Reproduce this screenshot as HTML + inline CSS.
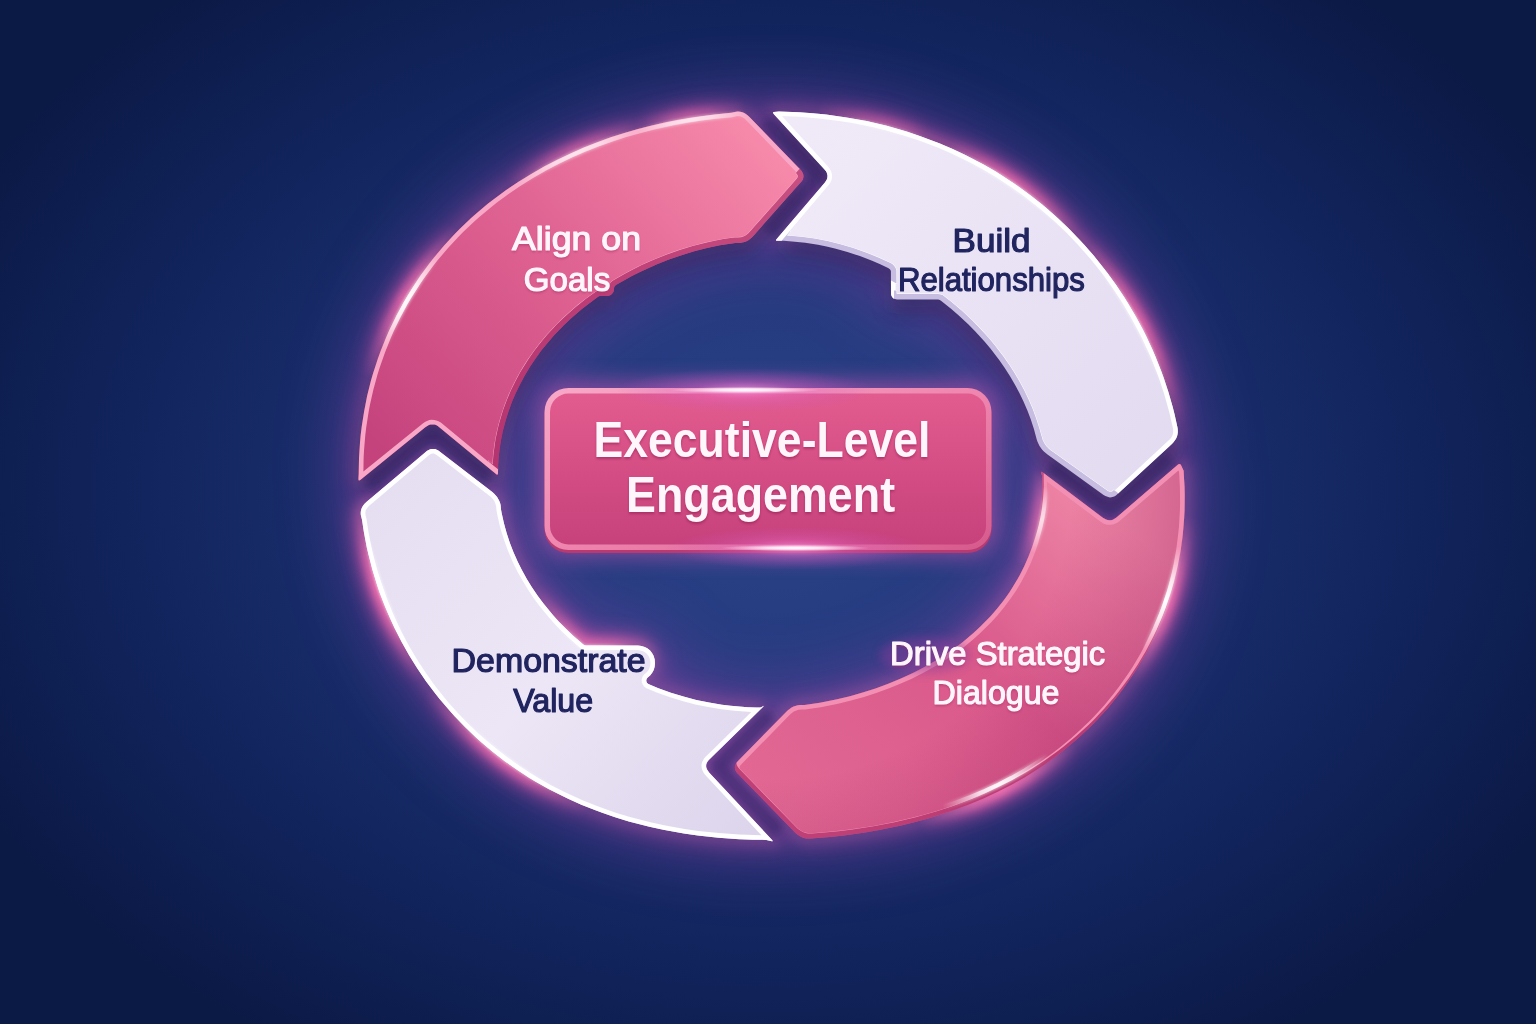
<!DOCTYPE html>
<html><head><meta charset="utf-8"><title>Executive-Level Engagement</title>
<style>html,body{margin:0;padding:0;background:#0f1c4b;}body{width:1536px;height:1024px;overflow:hidden;font-family:"Liberation Sans",sans-serif;}svg{display:block}</style>
</head><body>
<svg width="1536" height="1024" viewBox="0 0 1536 1024">
<defs>
<radialGradient id="bg" gradientUnits="userSpaceOnUse" cx="770" cy="490" r="900" gradientTransform="translate(770 490) scale(1 0.73) translate(-770 -490)">
 <stop offset="0" stop-color="#2b4389"/><stop offset="0.28" stop-color="#253b7f"/><stop offset="0.5" stop-color="#192d6b"/><stop offset="0.72" stop-color="#11245c"/><stop offset="1" stop-color="#0b1945"/>
</radialGradient>
<linearGradient id="gTL" gradientUnits="userSpaceOnUse" x1="760" y1="130" x2="400" y2="470">
 <stop offset="0" stop-color="#f78aab"/><stop offset="0.45" stop-color="#e06493"/><stop offset="1" stop-color="#c5437d"/>
</linearGradient>
<linearGradient id="gBR" gradientUnits="userSpaceOnUse" x1="1100" y1="500" x2="800" y2="830">
 <stop offset="0" stop-color="#ee86a6"/><stop offset="0.45" stop-color="#d9598b"/><stop offset="1" stop-color="#e26893"/>
</linearGradient>
<linearGradient id="gTR" gradientUnits="userSpaceOnUse" x1="800" y1="130" x2="1150" y2="480">
 <stop offset="0" stop-color="#f0eaf8"/><stop offset="0.6" stop-color="#e8e1f4"/><stop offset="1" stop-color="#e3dbf0"/>
</linearGradient>
<linearGradient id="gBL" gradientUnits="userSpaceOnUse" x1="400" y1="480" x2="750" y2="830">
 <stop offset="0" stop-color="#e6dff2"/><stop offset="0.5" stop-color="#ece6f6"/><stop offset="1" stop-color="#ddd5ec"/>
</linearGradient>
<radialGradient id="gBRo" gradientUnits="userSpaceOnUse" cx="770" cy="477" r="432">
 <stop offset="0.7" stop-color="#9a2060" stop-opacity="0"/><stop offset="1" stop-color="#9a2060" stop-opacity="0.36"/>
</radialGradient>
<linearGradient id="gBoxRim" x1="0" y1="0" x2="1" y2="1">
 <stop offset="0" stop-color="#f8a9c7"/><stop offset="0.5" stop-color="#ef86af"/><stop offset="1" stop-color="#d65a8c"/>
</linearGradient>
<linearGradient id="gBox" x1="0" y1="0" x2="0" y2="1">
 <stop offset="0" stop-color="#e25c8f"/><stop offset="1" stop-color="#c7417b"/>
</linearGradient>
<filter id="blur30" x="-40%" y="-40%" width="180%" height="180%"><feGaussianBlur stdDeviation="34"/></filter>
<filter id="blur12" x="-30%" y="-30%" width="160%" height="160%"><feGaussianBlur stdDeviation="10"/></filter>
<filter id="blur6" x="-30%" y="-30%" width="160%" height="160%"><feGaussianBlur stdDeviation="5"/></filter>
<filter id="blur2" x="-30%" y="-30%" width="160%" height="160%"><feGaussianBlur stdDeviation="1.2"/></filter>
<radialGradient id="fm"><stop offset="0" stop-color="#fff"/><stop offset="0.35" stop-color="#fff" stop-opacity="0.8"/><stop offset="1" stop-color="#fff" stop-opacity="0"/></radialGradient>
<radialGradient id="fg"><stop offset="0" stop-color="#ff9be0" stop-opacity="0.9"/><stop offset="0.4" stop-color="#e667c8" stop-opacity="0.45"/><stop offset="1" stop-color="#c24fc0" stop-opacity="0"/></radialGradient>
</defs>
<rect width="1536" height="1024" fill="url(#bg)"/>
<g filter="url(#blur30)" opacity="0.5">
<path d="M358.5 480.2 L358.7 480.5 L359.2 480.6 L360.3 480.0 L425.6 427.1 L427.3 425.9 L428.9 425.1 L430.5 424.6 L432.1 424.4 L434.5 424.6 L436.1 425.1 L437.7 426.0 L439.3 427.2 L496.0 474.1 L497.0 474.7 L497.6 474.6 L498.0 473.6 L498.1 465.7 L498.4 460.6 L499.4 450.6 L500.9 440.6 L502.9 430.8 L505.5 421.0 L508.5 411.5 L511.9 402.1 L515.8 392.9 L520.2 383.9 L524.9 375.2 L530.0 366.7 L535.6 358.4 L541.3 350.6 L547.5 342.9 L553.9 335.5 L563.8 325.2 L570.9 318.5 L581.6 309.2 L589.1 303.4 L598.1 296.7 L599.6 296.1 L600.4 296.0 L608.2 295.9 L609.5 295.5 L610.7 294.9 L612.1 293.8 L613.4 291.9 L613.9 290.2 L614.1 287.7 L614.3 287.0 L614.7 286.2 L615.9 285.1 L623.9 280.5 L631.9 276.1 L640.0 272.0 L648.2 268.2 L656.4 264.6 L668.9 259.6 L681.5 255.2 L694.2 251.3 L707.0 248.0 L719.9 245.3 L735.2 242.9 L740.0 242.9 L742.2 242.6 L744.5 242.0 L746.5 241.2 L748.4 240.2 L751.8 237.5 L753.5 235.7 L801.6 181.3 L802.5 179.9 L803.1 178.4 L803.4 176.6 L803.3 175.1 L803.0 173.7 L801.6 171.1 L800.2 169.5 L747.8 115.4 L745.8 113.9 L744.2 113.0 L742.3 112.2 L740.0 111.7 L738.0 111.6 L736.2 111.7 L731.2 112.8 L714.2 114.4 L693.4 117.2 L679.5 119.5 L665.7 122.3 L651.8 125.4 L638.0 129.0 L624.3 132.9 L610.7 137.3 L597.1 142.2 L583.6 147.6 L570.3 153.4 L557.1 159.7 L544.0 166.5 L531.2 173.9 L518.5 181.7 L506.2 190.1 L494.1 199.0 L488.1 203.6 L476.6 213.3 L470.9 218.3 L459.9 228.8 L454.5 234.2 L444.1 245.5 L434.2 257.2 L429.4 263.3 L420.3 275.6 L416.0 282.0 L411.7 288.5 L403.7 301.8 L396.3 315.5 L389.5 329.4 L386.4 336.6 L380.6 351.0 L377.9 358.4 L373.1 373.3 L370.9 380.8 L367.1 396.0 L364.1 411.4 L361.7 426.8 L360.7 434.7 L360.0 442.5 L359.0 458.1Z" fill="#9a44b4" stroke="#9a44b4" stroke-width="26"/>
<path d="M773.0 112.7 L773.7 113.9 L824.3 169.3 L825.8 171.1 L826.7 172.6 L827.2 174.2 L827.5 175.7 L827.3 177.9 L826.8 179.5 L825.9 181.1 L824.7 182.8 L776.7 239.1 L776.0 240.1 L776.2 240.7 L777.1 240.8 L779.6 240.7 L783.6 240.8 L792.2 241.4 L805.2 242.8 L818.0 244.8 L826.5 246.5 L834.9 248.5 L847.4 252.0 L859.9 256.1 L872.1 260.8 L880.2 264.3 L888.1 268.0 L889.9 269.2 L890.7 270.4 L890.9 271.2 L891.0 293.4 L891.2 294.9 L891.5 296.0 L892.6 297.6 L893.5 298.4 L894.9 299.1 L897.1 299.5 L938.1 299.5 L939.8 299.9 L941.0 300.7 L951.6 309.2 L958.5 315.2 L968.5 324.5 L975.1 331.2 L984.5 341.5 L990.6 348.7 L999.2 359.9 L1004.6 367.8 L1009.9 375.9 L1014.7 384.2 L1019.3 392.8 L1023.5 401.4 L1027.4 410.5 L1030.9 419.7 L1033.9 429.0 L1036.8 439.7 L1037.6 442.1 L1039.5 446.1 L1042.2 449.8 L1043.9 451.6 L1047.5 454.6 L1103.6 494.9 L1105.4 496.0 L1108.3 497.1 L1109.9 497.4 L1111.4 497.3 L1113.3 496.8 L1114.8 496.2 L1116.2 495.2 L1171.9 443.9 L1173.7 442.1 L1176.0 438.7 L1177.0 436.5 L1177.5 434.5 L1177.8 432.6 L1177.8 430.2 L1177.6 428.0 L1174.5 414.0 L1172.6 406.6 L1168.4 392.1 L1163.6 377.6 L1161.0 370.5 L1155.4 356.5 L1152.4 349.6 L1146.1 336.1 L1142.7 329.3 L1135.6 316.2 L1128.1 303.4 L1124.1 297.1 L1116.0 284.8 L1107.3 272.8 L1102.8 267.0 L1093.7 255.6 L1084.0 244.6 L1079.1 239.2 L1069.0 228.8 L1058.5 218.8 L1047.8 209.3 L1042.2 204.6 L1031.0 195.7 L1025.3 191.4 L1013.7 183.2 L1001.8 175.4 L995.8 171.6 L983.6 164.5 L971.1 157.9 L964.9 154.7 L952.2 148.8 L939.3 143.3 L919.8 135.9 L906.7 131.5 L886.8 125.8 L866.7 121.1 L846.5 117.4 L826.2 114.5 L812.7 113.2 L799.2 112.2 L778.9 111.4 L773.9 111.9 L773.2 112.2Z" fill="#9a44b4" stroke="#9a44b4" stroke-width="26"/>
<path d="M1178.5 464.3 L1179.6 464.0 L1180.5 464.5 L1183.6 470.8 L1184.5 486.7 L1184.7 502.7 L1184.1 518.7 L1182.8 534.6 L1181.9 542.5 L1179.4 558.4 L1177.8 566.2 L1174.2 581.8 L1172.0 589.6 L1167.2 604.8 L1164.5 612.4 L1158.5 627.2 L1155.3 634.5 L1148.2 648.9 L1144.4 655.9 L1136.3 669.6 L1131.9 676.3 L1122.8 689.3 L1118.0 695.6 L1108.0 707.9 L1097.4 719.6 L1091.9 725.2 L1080.5 736.0 L1074.6 741.2 L1062.6 751.2 L1056.4 755.9 L1043.9 764.9 L1037.4 769.2 L1024.4 777.4 L1011.1 784.9 L997.6 791.8 L983.9 798.2 L970.1 804.0 L956.2 809.3 L942.3 814.1 L928.2 818.4 L914.2 822.3 L900.1 825.7 L879.1 830.0 L865.0 832.5 L844.0 835.4 L830.0 837.0 L810.7 838.6 L806.2 838.4 L804.0 837.9 L802.0 837.2 L800.0 836.3 L796.3 833.7 L736.7 772.5 L735.8 771.1 L735.2 769.7 L734.9 768.2 L734.9 766.8 L735.2 765.4 L735.8 763.9 L736.7 762.5 L786.1 711.9 L787.9 710.2 L791.6 707.6 L793.5 706.6 L797.7 705.3 L799.9 705.0 L804.5 705.0 L819.9 702.7 L837.1 699.3 L849.9 696.2 L862.7 692.6 L875.5 688.5 L888.2 683.8 L900.9 678.6 L913.4 672.8 L925.9 666.3 L938.2 659.2 L946.2 654.0 L958.0 645.7 L965.7 639.7 L976.8 630.0 L984.0 623.1 L994.2 612.2 L1000.5 604.4 L1006.6 596.4 L1012.2 588.0 L1017.5 579.3 L1022.3 570.3 L1026.6 561.0 L1030.5 551.5 L1033.8 541.8 L1036.6 532.0 L1038.9 521.9 L1040.6 511.8 L1041.7 501.6 L1042.3 491.3 L1042.4 486.2 L1042.1 475.9 L1041.1 472.7 L1041.1 472.0 L1041.3 471.7 L1042.5 472.3 L1102.8 517.7 L1106.0 519.5 L1107.6 520.0 L1109.1 520.3 L1110.7 520.2 L1112.2 519.9 L1113.8 519.3 L1116.8 517.2Z" fill="#9a44b4" stroke="#9a44b4" stroke-width="26"/>
<path d="M583.3 644.5 L572.6 635.2 L565.7 628.6 L558.9 621.7 L552.5 614.6 L543.3 603.3 L537.5 595.5 L531.9 587.3 L526.8 578.9 L522.0 570.2 L517.5 561.3 L513.5 552.2 L509.9 542.9 L506.7 533.3 L504.0 523.6 L501.8 513.8 L501.1 509.9 L500.6 505.1 L500.1 503.0 L499.2 500.7 L497.1 496.9 L494.2 493.7 L492.3 492.1 L438.3 450.5 L436.7 449.7 L435.2 449.1 L433.3 448.9 L431.7 448.9 L430.2 449.3 L428.7 449.9 L427.2 450.7 L366.4 502.1 L364.6 503.8 L363.2 505.5 L362.1 507.3 L361.4 508.9 L360.9 510.8 L360.7 512.8 L360.8 515.1 L362.0 519.7 L363.9 532.2 L366.8 547.5 L368.6 555.1 L372.5 570.1 L377.1 585.0 L379.6 592.4 L385.1 606.8 L391.3 621.1 L394.5 628.1 L401.5 641.8 L409.1 655.2 L417.2 668.2 L425.8 680.9 L434.9 693.1 L439.6 699.1 L449.5 710.6 L454.6 716.2 L465.0 727.1 L476.0 737.5 L481.6 742.5 L493.0 752.1 L504.8 761.2 L517.0 769.8 L529.4 777.9 L535.7 781.7 L548.5 788.9 L561.5 795.6 L568.1 798.8 L581.3 804.7 L594.8 810.1 L601.5 812.6 L615.1 817.3 L628.8 821.4 L649.4 826.8 L663.2 829.8 L683.9 833.5 L697.8 835.5 L718.5 837.7 L739.3 839.2 L753.0 839.7 L766.3 839.9 L771.8 841.3 L772.7 841.3 L772.7 840.9 L772.1 840.0 L709.1 772.4 L707.7 770.6 L706.8 769.1 L706.3 767.5 L706.1 766.1 L706.3 764.0 L707.0 762.5 L707.9 761.0 L709.3 759.5 L763.2 706.8 L764.0 705.8 L761.0 707.3 L760.3 707.5 L756.3 707.5 L747.7 707.2 L739.2 706.6 L730.6 705.8 L722.0 704.7 L709.1 702.6 L696.3 699.9 L683.5 696.6 L670.9 692.7 L658.4 688.2 L650.1 684.8 L647.9 683.8 L646.8 682.6 L646.3 681.1 L646.3 680.2 L646.7 678.7 L647.7 677.4 L650.1 675.4 L652.2 672.8 L653.6 670.2 L654.6 667.0 L655.0 663.4 L654.7 659.4 L653.6 655.8 L652.0 652.9 L650.1 650.6 L647.3 648.3 L644.7 646.9 L641.5 645.9 L638.1 645.5 L586.0 645.5 L584.2 645.1Z" fill="#9a44b4" stroke="#9a44b4" stroke-width="26"/>
</g>
<mask id="gmask" maskUnits="userSpaceOnUse" x="0" y="0" width="1536" height="1024">
<rect width="1536" height="1024" fill="#fff" opacity="0.22"/>
<circle cx="401" cy="297" r="88" fill="url(#fm)" opacity="1"/>
<circle cx="690" cy="117" r="56" fill="url(#fm)" opacity="0.7"/>
<circle cx="885" cy="125" r="69" fill="url(#fm)" opacity="0.6"/>
<circle cx="575" cy="150" r="75" fill="url(#fm)" opacity="0.7"/>
<circle cx="1010" cy="186" r="100" fill="url(#fm)" opacity="0.9"/>
<circle cx="1140" cy="322" r="112" fill="url(#fm)" opacity="1"/>
<circle cx="1166" cy="600" r="88" fill="url(#fm)" opacity="1"/>
<circle cx="1000" cy="790" r="88" fill="url(#fm)" opacity="1"/>
<circle cx="380" cy="590" r="100" fill="url(#fm)" opacity="1"/>
<circle cx="505" cy="755" r="100" fill="url(#fm)" opacity="0.9"/>
<circle cx="590" cy="640" r="75" fill="url(#fm)" opacity="0.8"/>
<circle cx="1041" cy="520" r="50" fill="url(#fm)" opacity="0.7"/>
<ellipse cx="770" cy="440" rx="262" ry="200" fill="#000" opacity="0.55" filter="url(#blur12)"/>
</mask>
<g mask="url(#gmask)">
<g filter="url(#blur12)">
<path d="M358.5 480.2 L358.7 480.5 L359.2 480.6 L360.3 480.0 L425.6 427.1 L427.3 425.9 L428.9 425.1 L430.5 424.6 L432.1 424.4 L434.5 424.6 L436.1 425.1 L437.7 426.0 L439.3 427.2 L496.0 474.1 L497.0 474.7 L497.6 474.6 L498.0 473.6 L498.1 465.7 L498.4 460.6 L499.4 450.6 L500.9 440.6 L502.9 430.8 L505.5 421.0 L508.5 411.5 L511.9 402.1 L515.8 392.9 L520.2 383.9 L524.9 375.2 L530.0 366.7 L535.6 358.4 L541.3 350.6 L547.5 342.9 L553.9 335.5 L563.8 325.2 L570.9 318.5 L581.6 309.2 L589.1 303.4 L598.1 296.7 L599.6 296.1 L600.4 296.0 L608.2 295.9 L609.5 295.5 L610.7 294.9 L612.1 293.8 L613.4 291.9 L613.9 290.2 L614.1 287.7 L614.3 287.0 L614.7 286.2 L615.9 285.1 L623.9 280.5 L631.9 276.1 L640.0 272.0 L648.2 268.2 L656.4 264.6 L668.9 259.6 L681.5 255.2 L694.2 251.3 L707.0 248.0 L719.9 245.3 L735.2 242.9 L740.0 242.9 L742.2 242.6 L744.5 242.0 L746.5 241.2 L748.4 240.2 L751.8 237.5 L753.5 235.7 L801.6 181.3 L802.5 179.9 L803.1 178.4 L803.4 176.6 L803.3 175.1 L803.0 173.7 L801.6 171.1 L800.2 169.5 L747.8 115.4 L745.8 113.9 L744.2 113.0 L742.3 112.2 L740.0 111.7 L738.0 111.6 L736.2 111.7 L731.2 112.8 L714.2 114.4 L693.4 117.2 L679.5 119.5 L665.7 122.3 L651.8 125.4 L638.0 129.0 L624.3 132.9 L610.7 137.3 L597.1 142.2 L583.6 147.6 L570.3 153.4 L557.1 159.7 L544.0 166.5 L531.2 173.9 L518.5 181.7 L506.2 190.1 L494.1 199.0 L488.1 203.6 L476.6 213.3 L470.9 218.3 L459.9 228.8 L454.5 234.2 L444.1 245.5 L434.2 257.2 L429.4 263.3 L420.3 275.6 L416.0 282.0 L411.7 288.5 L403.7 301.8 L396.3 315.5 L389.5 329.4 L386.4 336.6 L380.6 351.0 L377.9 358.4 L373.1 373.3 L370.9 380.8 L367.1 396.0 L364.1 411.4 L361.7 426.8 L360.7 434.7 L360.0 442.5 L359.0 458.1Z" fill="none" stroke="#e85aa8" stroke-width="18"/>
<path d="M773.0 112.7 L773.7 113.9 L824.3 169.3 L825.8 171.1 L826.7 172.6 L827.2 174.2 L827.5 175.7 L827.3 177.9 L826.8 179.5 L825.9 181.1 L824.7 182.8 L776.7 239.1 L776.0 240.1 L776.2 240.7 L777.1 240.8 L779.6 240.7 L783.6 240.8 L792.2 241.4 L805.2 242.8 L818.0 244.8 L826.5 246.5 L834.9 248.5 L847.4 252.0 L859.9 256.1 L872.1 260.8 L880.2 264.3 L888.1 268.0 L889.9 269.2 L890.7 270.4 L890.9 271.2 L891.0 293.4 L891.2 294.9 L891.5 296.0 L892.6 297.6 L893.5 298.4 L894.9 299.1 L897.1 299.5 L938.1 299.5 L939.8 299.9 L941.0 300.7 L951.6 309.2 L958.5 315.2 L968.5 324.5 L975.1 331.2 L984.5 341.5 L990.6 348.7 L999.2 359.9 L1004.6 367.8 L1009.9 375.9 L1014.7 384.2 L1019.3 392.8 L1023.5 401.4 L1027.4 410.5 L1030.9 419.7 L1033.9 429.0 L1036.8 439.7 L1037.6 442.1 L1039.5 446.1 L1042.2 449.8 L1043.9 451.6 L1047.5 454.6 L1103.6 494.9 L1105.4 496.0 L1108.3 497.1 L1109.9 497.4 L1111.4 497.3 L1113.3 496.8 L1114.8 496.2 L1116.2 495.2 L1171.9 443.9 L1173.7 442.1 L1176.0 438.7 L1177.0 436.5 L1177.5 434.5 L1177.8 432.6 L1177.8 430.2 L1177.6 428.0 L1174.5 414.0 L1172.6 406.6 L1168.4 392.1 L1163.6 377.6 L1161.0 370.5 L1155.4 356.5 L1152.4 349.6 L1146.1 336.1 L1142.7 329.3 L1135.6 316.2 L1128.1 303.4 L1124.1 297.1 L1116.0 284.8 L1107.3 272.8 L1102.8 267.0 L1093.7 255.6 L1084.0 244.6 L1079.1 239.2 L1069.0 228.8 L1058.5 218.8 L1047.8 209.3 L1042.2 204.6 L1031.0 195.7 L1025.3 191.4 L1013.7 183.2 L1001.8 175.4 L995.8 171.6 L983.6 164.5 L971.1 157.9 L964.9 154.7 L952.2 148.8 L939.3 143.3 L919.8 135.9 L906.7 131.5 L886.8 125.8 L866.7 121.1 L846.5 117.4 L826.2 114.5 L812.7 113.2 L799.2 112.2 L778.9 111.4 L773.9 111.9 L773.2 112.2Z" fill="none" stroke="#e85aa8" stroke-width="18"/>
<path d="M1178.5 464.3 L1179.6 464.0 L1180.5 464.5 L1183.6 470.8 L1184.5 486.7 L1184.7 502.7 L1184.1 518.7 L1182.8 534.6 L1181.9 542.5 L1179.4 558.4 L1177.8 566.2 L1174.2 581.8 L1172.0 589.6 L1167.2 604.8 L1164.5 612.4 L1158.5 627.2 L1155.3 634.5 L1148.2 648.9 L1144.4 655.9 L1136.3 669.6 L1131.9 676.3 L1122.8 689.3 L1118.0 695.6 L1108.0 707.9 L1097.4 719.6 L1091.9 725.2 L1080.5 736.0 L1074.6 741.2 L1062.6 751.2 L1056.4 755.9 L1043.9 764.9 L1037.4 769.2 L1024.4 777.4 L1011.1 784.9 L997.6 791.8 L983.9 798.2 L970.1 804.0 L956.2 809.3 L942.3 814.1 L928.2 818.4 L914.2 822.3 L900.1 825.7 L879.1 830.0 L865.0 832.5 L844.0 835.4 L830.0 837.0 L810.7 838.6 L806.2 838.4 L804.0 837.9 L802.0 837.2 L800.0 836.3 L796.3 833.7 L736.7 772.5 L735.8 771.1 L735.2 769.7 L734.9 768.2 L734.9 766.8 L735.2 765.4 L735.8 763.9 L736.7 762.5 L786.1 711.9 L787.9 710.2 L791.6 707.6 L793.5 706.6 L797.7 705.3 L799.9 705.0 L804.5 705.0 L819.9 702.7 L837.1 699.3 L849.9 696.2 L862.7 692.6 L875.5 688.5 L888.2 683.8 L900.9 678.6 L913.4 672.8 L925.9 666.3 L938.2 659.2 L946.2 654.0 L958.0 645.7 L965.7 639.7 L976.8 630.0 L984.0 623.1 L994.2 612.2 L1000.5 604.4 L1006.6 596.4 L1012.2 588.0 L1017.5 579.3 L1022.3 570.3 L1026.6 561.0 L1030.5 551.5 L1033.8 541.8 L1036.6 532.0 L1038.9 521.9 L1040.6 511.8 L1041.7 501.6 L1042.3 491.3 L1042.4 486.2 L1042.1 475.9 L1041.1 472.7 L1041.1 472.0 L1041.3 471.7 L1042.5 472.3 L1102.8 517.7 L1106.0 519.5 L1107.6 520.0 L1109.1 520.3 L1110.7 520.2 L1112.2 519.9 L1113.8 519.3 L1116.8 517.2Z" fill="none" stroke="#e85aa8" stroke-width="18"/>
<path d="M583.3 644.5 L572.6 635.2 L565.7 628.6 L558.9 621.7 L552.5 614.6 L543.3 603.3 L537.5 595.5 L531.9 587.3 L526.8 578.9 L522.0 570.2 L517.5 561.3 L513.5 552.2 L509.9 542.9 L506.7 533.3 L504.0 523.6 L501.8 513.8 L501.1 509.9 L500.6 505.1 L500.1 503.0 L499.2 500.7 L497.1 496.9 L494.2 493.7 L492.3 492.1 L438.3 450.5 L436.7 449.7 L435.2 449.1 L433.3 448.9 L431.7 448.9 L430.2 449.3 L428.7 449.9 L427.2 450.7 L366.4 502.1 L364.6 503.8 L363.2 505.5 L362.1 507.3 L361.4 508.9 L360.9 510.8 L360.7 512.8 L360.8 515.1 L362.0 519.7 L363.9 532.2 L366.8 547.5 L368.6 555.1 L372.5 570.1 L377.1 585.0 L379.6 592.4 L385.1 606.8 L391.3 621.1 L394.5 628.1 L401.5 641.8 L409.1 655.2 L417.2 668.2 L425.8 680.9 L434.9 693.1 L439.6 699.1 L449.5 710.6 L454.6 716.2 L465.0 727.1 L476.0 737.5 L481.6 742.5 L493.0 752.1 L504.8 761.2 L517.0 769.8 L529.4 777.9 L535.7 781.7 L548.5 788.9 L561.5 795.6 L568.1 798.8 L581.3 804.7 L594.8 810.1 L601.5 812.6 L615.1 817.3 L628.8 821.4 L649.4 826.8 L663.2 829.8 L683.9 833.5 L697.8 835.5 L718.5 837.7 L739.3 839.2 L753.0 839.7 L766.3 839.9 L771.8 841.3 L772.7 841.3 L772.7 840.9 L772.1 840.0 L709.1 772.4 L707.7 770.6 L706.8 769.1 L706.3 767.5 L706.1 766.1 L706.3 764.0 L707.0 762.5 L707.9 761.0 L709.3 759.5 L763.2 706.8 L764.0 705.8 L761.0 707.3 L760.3 707.5 L756.3 707.5 L747.7 707.2 L739.2 706.6 L730.6 705.8 L722.0 704.7 L709.1 702.6 L696.3 699.9 L683.5 696.6 L670.9 692.7 L658.4 688.2 L650.1 684.8 L647.9 683.8 L646.8 682.6 L646.3 681.1 L646.3 680.2 L646.7 678.7 L647.7 677.4 L650.1 675.4 L652.2 672.8 L653.6 670.2 L654.6 667.0 L655.0 663.4 L654.7 659.4 L653.6 655.8 L652.0 652.9 L650.1 650.6 L647.3 648.3 L644.7 646.9 L641.5 645.9 L638.1 645.5 L586.0 645.5 L584.2 645.1Z" fill="none" stroke="#e85aa8" stroke-width="18"/>
</g>
<g filter="url(#blur6)">
<path d="M358.5 480.2 L358.7 480.5 L359.2 480.6 L360.3 480.0 L425.6 427.1 L427.3 425.9 L428.9 425.1 L430.5 424.6 L432.1 424.4 L434.5 424.6 L436.1 425.1 L437.7 426.0 L439.3 427.2 L496.0 474.1 L497.0 474.7 L497.6 474.6 L498.0 473.6 L498.1 465.7 L498.4 460.6 L499.4 450.6 L500.9 440.6 L502.9 430.8 L505.5 421.0 L508.5 411.5 L511.9 402.1 L515.8 392.9 L520.2 383.9 L524.9 375.2 L530.0 366.7 L535.6 358.4 L541.3 350.6 L547.5 342.9 L553.9 335.5 L563.8 325.2 L570.9 318.5 L581.6 309.2 L589.1 303.4 L598.1 296.7 L599.6 296.1 L600.4 296.0 L608.2 295.9 L609.5 295.5 L610.7 294.9 L612.1 293.8 L613.4 291.9 L613.9 290.2 L614.1 287.7 L614.3 287.0 L614.7 286.2 L615.9 285.1 L623.9 280.5 L631.9 276.1 L640.0 272.0 L648.2 268.2 L656.4 264.6 L668.9 259.6 L681.5 255.2 L694.2 251.3 L707.0 248.0 L719.9 245.3 L735.2 242.9 L740.0 242.9 L742.2 242.6 L744.5 242.0 L746.5 241.2 L748.4 240.2 L751.8 237.5 L753.5 235.7 L801.6 181.3 L802.5 179.9 L803.1 178.4 L803.4 176.6 L803.3 175.1 L803.0 173.7 L801.6 171.1 L800.2 169.5 L747.8 115.4 L745.8 113.9 L744.2 113.0 L742.3 112.2 L740.0 111.7 L738.0 111.6 L736.2 111.7 L731.2 112.8 L714.2 114.4 L693.4 117.2 L679.5 119.5 L665.7 122.3 L651.8 125.4 L638.0 129.0 L624.3 132.9 L610.7 137.3 L597.1 142.2 L583.6 147.6 L570.3 153.4 L557.1 159.7 L544.0 166.5 L531.2 173.9 L518.5 181.7 L506.2 190.1 L494.1 199.0 L488.1 203.6 L476.6 213.3 L470.9 218.3 L459.9 228.8 L454.5 234.2 L444.1 245.5 L434.2 257.2 L429.4 263.3 L420.3 275.6 L416.0 282.0 L411.7 288.5 L403.7 301.8 L396.3 315.5 L389.5 329.4 L386.4 336.6 L380.6 351.0 L377.9 358.4 L373.1 373.3 L370.9 380.8 L367.1 396.0 L364.1 411.4 L361.7 426.8 L360.7 434.7 L360.0 442.5 L359.0 458.1Z" fill="none" stroke="#ff78b4" stroke-width="10"/>
<path d="M773.0 112.7 L773.7 113.9 L824.3 169.3 L825.8 171.1 L826.7 172.6 L827.2 174.2 L827.5 175.7 L827.3 177.9 L826.8 179.5 L825.9 181.1 L824.7 182.8 L776.7 239.1 L776.0 240.1 L776.2 240.7 L777.1 240.8 L779.6 240.7 L783.6 240.8 L792.2 241.4 L805.2 242.8 L818.0 244.8 L826.5 246.5 L834.9 248.5 L847.4 252.0 L859.9 256.1 L872.1 260.8 L880.2 264.3 L888.1 268.0 L889.9 269.2 L890.7 270.4 L890.9 271.2 L891.0 293.4 L891.2 294.9 L891.5 296.0 L892.6 297.6 L893.5 298.4 L894.9 299.1 L897.1 299.5 L938.1 299.5 L939.8 299.9 L941.0 300.7 L951.6 309.2 L958.5 315.2 L968.5 324.5 L975.1 331.2 L984.5 341.5 L990.6 348.7 L999.2 359.9 L1004.6 367.8 L1009.9 375.9 L1014.7 384.2 L1019.3 392.8 L1023.5 401.4 L1027.4 410.5 L1030.9 419.7 L1033.9 429.0 L1036.8 439.7 L1037.6 442.1 L1039.5 446.1 L1042.2 449.8 L1043.9 451.6 L1047.5 454.6 L1103.6 494.9 L1105.4 496.0 L1108.3 497.1 L1109.9 497.4 L1111.4 497.3 L1113.3 496.8 L1114.8 496.2 L1116.2 495.2 L1171.9 443.9 L1173.7 442.1 L1176.0 438.7 L1177.0 436.5 L1177.5 434.5 L1177.8 432.6 L1177.8 430.2 L1177.6 428.0 L1174.5 414.0 L1172.6 406.6 L1168.4 392.1 L1163.6 377.6 L1161.0 370.5 L1155.4 356.5 L1152.4 349.6 L1146.1 336.1 L1142.7 329.3 L1135.6 316.2 L1128.1 303.4 L1124.1 297.1 L1116.0 284.8 L1107.3 272.8 L1102.8 267.0 L1093.7 255.6 L1084.0 244.6 L1079.1 239.2 L1069.0 228.8 L1058.5 218.8 L1047.8 209.3 L1042.2 204.6 L1031.0 195.7 L1025.3 191.4 L1013.7 183.2 L1001.8 175.4 L995.8 171.6 L983.6 164.5 L971.1 157.9 L964.9 154.7 L952.2 148.8 L939.3 143.3 L919.8 135.9 L906.7 131.5 L886.8 125.8 L866.7 121.1 L846.5 117.4 L826.2 114.5 L812.7 113.2 L799.2 112.2 L778.9 111.4 L773.9 111.9 L773.2 112.2Z" fill="none" stroke="#ff78b4" stroke-width="10"/>
<path d="M1178.5 464.3 L1179.6 464.0 L1180.5 464.5 L1183.6 470.8 L1184.5 486.7 L1184.7 502.7 L1184.1 518.7 L1182.8 534.6 L1181.9 542.5 L1179.4 558.4 L1177.8 566.2 L1174.2 581.8 L1172.0 589.6 L1167.2 604.8 L1164.5 612.4 L1158.5 627.2 L1155.3 634.5 L1148.2 648.9 L1144.4 655.9 L1136.3 669.6 L1131.9 676.3 L1122.8 689.3 L1118.0 695.6 L1108.0 707.9 L1097.4 719.6 L1091.9 725.2 L1080.5 736.0 L1074.6 741.2 L1062.6 751.2 L1056.4 755.9 L1043.9 764.9 L1037.4 769.2 L1024.4 777.4 L1011.1 784.9 L997.6 791.8 L983.9 798.2 L970.1 804.0 L956.2 809.3 L942.3 814.1 L928.2 818.4 L914.2 822.3 L900.1 825.7 L879.1 830.0 L865.0 832.5 L844.0 835.4 L830.0 837.0 L810.7 838.6 L806.2 838.4 L804.0 837.9 L802.0 837.2 L800.0 836.3 L796.3 833.7 L736.7 772.5 L735.8 771.1 L735.2 769.7 L734.9 768.2 L734.9 766.8 L735.2 765.4 L735.8 763.9 L736.7 762.5 L786.1 711.9 L787.9 710.2 L791.6 707.6 L793.5 706.6 L797.7 705.3 L799.9 705.0 L804.5 705.0 L819.9 702.7 L837.1 699.3 L849.9 696.2 L862.7 692.6 L875.5 688.5 L888.2 683.8 L900.9 678.6 L913.4 672.8 L925.9 666.3 L938.2 659.2 L946.2 654.0 L958.0 645.7 L965.7 639.7 L976.8 630.0 L984.0 623.1 L994.2 612.2 L1000.5 604.4 L1006.6 596.4 L1012.2 588.0 L1017.5 579.3 L1022.3 570.3 L1026.6 561.0 L1030.5 551.5 L1033.8 541.8 L1036.6 532.0 L1038.9 521.9 L1040.6 511.8 L1041.7 501.6 L1042.3 491.3 L1042.4 486.2 L1042.1 475.9 L1041.1 472.7 L1041.1 472.0 L1041.3 471.7 L1042.5 472.3 L1102.8 517.7 L1106.0 519.5 L1107.6 520.0 L1109.1 520.3 L1110.7 520.2 L1112.2 519.9 L1113.8 519.3 L1116.8 517.2Z" fill="none" stroke="#ff78b4" stroke-width="10"/>
<path d="M583.3 644.5 L572.6 635.2 L565.7 628.6 L558.9 621.7 L552.5 614.6 L543.3 603.3 L537.5 595.5 L531.9 587.3 L526.8 578.9 L522.0 570.2 L517.5 561.3 L513.5 552.2 L509.9 542.9 L506.7 533.3 L504.0 523.6 L501.8 513.8 L501.1 509.9 L500.6 505.1 L500.1 503.0 L499.2 500.7 L497.1 496.9 L494.2 493.7 L492.3 492.1 L438.3 450.5 L436.7 449.7 L435.2 449.1 L433.3 448.9 L431.7 448.9 L430.2 449.3 L428.7 449.9 L427.2 450.7 L366.4 502.1 L364.6 503.8 L363.2 505.5 L362.1 507.3 L361.4 508.9 L360.9 510.8 L360.7 512.8 L360.8 515.1 L362.0 519.7 L363.9 532.2 L366.8 547.5 L368.6 555.1 L372.5 570.1 L377.1 585.0 L379.6 592.4 L385.1 606.8 L391.3 621.1 L394.5 628.1 L401.5 641.8 L409.1 655.2 L417.2 668.2 L425.8 680.9 L434.9 693.1 L439.6 699.1 L449.5 710.6 L454.6 716.2 L465.0 727.1 L476.0 737.5 L481.6 742.5 L493.0 752.1 L504.8 761.2 L517.0 769.8 L529.4 777.9 L535.7 781.7 L548.5 788.9 L561.5 795.6 L568.1 798.8 L581.3 804.7 L594.8 810.1 L601.5 812.6 L615.1 817.3 L628.8 821.4 L649.4 826.8 L663.2 829.8 L683.9 833.5 L697.8 835.5 L718.5 837.7 L739.3 839.2 L753.0 839.7 L766.3 839.9 L771.8 841.3 L772.7 841.3 L772.7 840.9 L772.1 840.0 L709.1 772.4 L707.7 770.6 L706.8 769.1 L706.3 767.5 L706.1 766.1 L706.3 764.0 L707.0 762.5 L707.9 761.0 L709.3 759.5 L763.2 706.8 L764.0 705.8 L761.0 707.3 L760.3 707.5 L756.3 707.5 L747.7 707.2 L739.2 706.6 L730.6 705.8 L722.0 704.7 L709.1 702.6 L696.3 699.9 L683.5 696.6 L670.9 692.7 L658.4 688.2 L650.1 684.8 L647.9 683.8 L646.8 682.6 L646.3 681.1 L646.3 680.2 L646.7 678.7 L647.7 677.4 L650.1 675.4 L652.2 672.8 L653.6 670.2 L654.6 667.0 L655.0 663.4 L654.7 659.4 L653.6 655.8 L652.0 652.9 L650.1 650.6 L647.3 648.3 L644.7 646.9 L641.5 645.9 L638.1 645.5 L586.0 645.5 L584.2 645.1Z" fill="none" stroke="#ff78b4" stroke-width="10"/>
</g>
</g>
<g filter="url(#blur6)" opacity="0.55" fill="none" stroke="#2a2062" stroke-width="16" stroke-linejoin="round" stroke-linecap="butt">
<path d="M765.1 119.2 L818.5 176.0 L768.5 233.4"/>
<path d="M1171.0 457.7 L1110.5 511.6 L1049.2 466.6"/>
<path d="M779.7 832.3 L717.3 766.6 L770.9 713.0"/>
<path d="M367.4 487.7 L432.6 433.8 L490.1 479.8"/>
</g>
<g filter="url(#blur12)" opacity="0.4">
<path d="M358.5 480.2 L358.7 480.5 L359.2 480.6 L360.3 480.0 L425.6 427.1 L427.3 425.9 L428.9 425.1 L430.5 424.6 L432.1 424.4 L434.5 424.6 L436.1 425.1 L437.7 426.0 L439.3 427.2 L496.0 474.1 L497.0 474.7 L497.6 474.6 L498.0 473.6 L498.1 465.7 L498.4 460.6 L499.4 450.6 L500.9 440.6 L502.9 430.8 L505.5 421.0 L508.5 411.5 L511.9 402.1 L515.8 392.9 L520.2 383.9 L524.9 375.2 L530.0 366.7 L535.6 358.4 L541.3 350.6 L547.5 342.9 L553.9 335.5 L563.8 325.2 L570.9 318.5 L581.6 309.2 L589.1 303.4 L598.1 296.7 L599.6 296.1 L600.4 296.0 L608.2 295.9 L609.5 295.5 L610.7 294.9 L612.1 293.8 L613.4 291.9 L613.9 290.2 L614.1 287.7 L614.3 287.0 L614.7 286.2 L615.9 285.1 L623.9 280.5 L631.9 276.1 L640.0 272.0 L648.2 268.2 L656.4 264.6 L668.9 259.6 L681.5 255.2 L694.2 251.3 L707.0 248.0 L719.9 245.3 L735.2 242.9 L740.0 242.9 L742.2 242.6 L744.5 242.0 L746.5 241.2 L748.4 240.2 L751.8 237.5 L753.5 235.7 L801.6 181.3 L802.5 179.9 L803.1 178.4 L803.4 176.6 L803.3 175.1 L803.0 173.7 L801.6 171.1 L800.2 169.5 L747.8 115.4 L745.8 113.9 L744.2 113.0 L742.3 112.2 L740.0 111.7 L738.0 111.6 L736.2 111.7 L731.2 112.8 L714.2 114.4 L693.4 117.2 L679.5 119.5 L665.7 122.3 L651.8 125.4 L638.0 129.0 L624.3 132.9 L610.7 137.3 L597.1 142.2 L583.6 147.6 L570.3 153.4 L557.1 159.7 L544.0 166.5 L531.2 173.9 L518.5 181.7 L506.2 190.1 L494.1 199.0 L488.1 203.6 L476.6 213.3 L470.9 218.3 L459.9 228.8 L454.5 234.2 L444.1 245.5 L434.2 257.2 L429.4 263.3 L420.3 275.6 L416.0 282.0 L411.7 288.5 L403.7 301.8 L396.3 315.5 L389.5 329.4 L386.4 336.6 L380.6 351.0 L377.9 358.4 L373.1 373.3 L370.9 380.8 L367.1 396.0 L364.1 411.4 L361.7 426.8 L360.7 434.7 L360.0 442.5 L359.0 458.1Z" fill="#0e1440" transform="translate(0 14)"/>
<path d="M773.0 112.7 L773.7 113.9 L824.3 169.3 L825.8 171.1 L826.7 172.6 L827.2 174.2 L827.5 175.7 L827.3 177.9 L826.8 179.5 L825.9 181.1 L824.7 182.8 L776.7 239.1 L776.0 240.1 L776.2 240.7 L777.1 240.8 L779.6 240.7 L783.6 240.8 L792.2 241.4 L805.2 242.8 L818.0 244.8 L826.5 246.5 L834.9 248.5 L847.4 252.0 L859.9 256.1 L872.1 260.8 L880.2 264.3 L888.1 268.0 L889.9 269.2 L890.7 270.4 L890.9 271.2 L891.0 293.4 L891.2 294.9 L891.5 296.0 L892.6 297.6 L893.5 298.4 L894.9 299.1 L897.1 299.5 L938.1 299.5 L939.8 299.9 L941.0 300.7 L951.6 309.2 L958.5 315.2 L968.5 324.5 L975.1 331.2 L984.5 341.5 L990.6 348.7 L999.2 359.9 L1004.6 367.8 L1009.9 375.9 L1014.7 384.2 L1019.3 392.8 L1023.5 401.4 L1027.4 410.5 L1030.9 419.7 L1033.9 429.0 L1036.8 439.7 L1037.6 442.1 L1039.5 446.1 L1042.2 449.8 L1043.9 451.6 L1047.5 454.6 L1103.6 494.9 L1105.4 496.0 L1108.3 497.1 L1109.9 497.4 L1111.4 497.3 L1113.3 496.8 L1114.8 496.2 L1116.2 495.2 L1171.9 443.9 L1173.7 442.1 L1176.0 438.7 L1177.0 436.5 L1177.5 434.5 L1177.8 432.6 L1177.8 430.2 L1177.6 428.0 L1174.5 414.0 L1172.6 406.6 L1168.4 392.1 L1163.6 377.6 L1161.0 370.5 L1155.4 356.5 L1152.4 349.6 L1146.1 336.1 L1142.7 329.3 L1135.6 316.2 L1128.1 303.4 L1124.1 297.1 L1116.0 284.8 L1107.3 272.8 L1102.8 267.0 L1093.7 255.6 L1084.0 244.6 L1079.1 239.2 L1069.0 228.8 L1058.5 218.8 L1047.8 209.3 L1042.2 204.6 L1031.0 195.7 L1025.3 191.4 L1013.7 183.2 L1001.8 175.4 L995.8 171.6 L983.6 164.5 L971.1 157.9 L964.9 154.7 L952.2 148.8 L939.3 143.3 L919.8 135.9 L906.7 131.5 L886.8 125.8 L866.7 121.1 L846.5 117.4 L826.2 114.5 L812.7 113.2 L799.2 112.2 L778.9 111.4 L773.9 111.9 L773.2 112.2Z" fill="#0e1440" transform="translate(0 14)"/>
</g>
<path d="M358.5 480.2 L358.7 480.5 L359.2 480.6 L360.3 480.0 L425.6 427.1 L427.3 425.9 L428.9 425.1 L430.5 424.6 L432.1 424.4 L434.5 424.6 L436.1 425.1 L437.7 426.0 L439.3 427.2 L496.0 474.1 L497.0 474.7 L497.6 474.6 L498.0 473.6 L498.1 465.7 L498.4 460.6 L499.4 450.6 L500.9 440.6 L502.9 430.8 L505.5 421.0 L508.5 411.5 L511.9 402.1 L515.8 392.9 L520.2 383.9 L524.9 375.2 L530.0 366.7 L535.6 358.4 L541.3 350.6 L547.5 342.9 L553.9 335.5 L563.8 325.2 L570.9 318.5 L581.6 309.2 L589.1 303.4 L598.1 296.7 L599.6 296.1 L600.4 296.0 L608.2 295.9 L609.5 295.5 L610.7 294.9 L612.1 293.8 L613.4 291.9 L613.9 290.2 L614.1 287.7 L614.3 287.0 L614.7 286.2 L615.9 285.1 L623.9 280.5 L631.9 276.1 L640.0 272.0 L648.2 268.2 L656.4 264.6 L668.9 259.6 L681.5 255.2 L694.2 251.3 L707.0 248.0 L719.9 245.3 L735.2 242.9 L740.0 242.9 L742.2 242.6 L744.5 242.0 L746.5 241.2 L748.4 240.2 L751.8 237.5 L753.5 235.7 L801.6 181.3 L802.5 179.9 L803.1 178.4 L803.4 176.6 L803.3 175.1 L803.0 173.7 L801.6 171.1 L800.2 169.5 L747.8 115.4 L745.8 113.9 L744.2 113.0 L742.3 112.2 L740.0 111.7 L738.0 111.6 L736.2 111.7 L731.2 112.8 L714.2 114.4 L693.4 117.2 L679.5 119.5 L665.7 122.3 L651.8 125.4 L638.0 129.0 L624.3 132.9 L610.7 137.3 L597.1 142.2 L583.6 147.6 L570.3 153.4 L557.1 159.7 L544.0 166.5 L531.2 173.9 L518.5 181.7 L506.2 190.1 L494.1 199.0 L488.1 203.6 L476.6 213.3 L470.9 218.3 L459.9 228.8 L454.5 234.2 L444.1 245.5 L434.2 257.2 L429.4 263.3 L420.3 275.6 L416.0 282.0 L411.7 288.5 L403.7 301.8 L396.3 315.5 L389.5 329.4 L386.4 336.6 L380.6 351.0 L377.9 358.4 L373.1 373.3 L370.9 380.8 L367.1 396.0 L364.1 411.4 L361.7 426.8 L360.7 434.7 L360.0 442.5 L359.0 458.1Z" fill="url(#gTL)"/>
<path d="M358.5 480.2 L358.7 480.5 L359.2 480.6 L360.3 480.0 L425.6 427.1 L427.3 425.9 L428.9 425.1 L430.5 424.6 L432.1 424.4 L434.5 424.6 L436.1 425.1 L437.7 426.0 L439.3 427.2 L496.0 474.1 L497.0 474.7 L497.6 474.6 L498.0 473.6 L498.1 465.7 L498.4 460.6 L499.4 450.6 L500.9 440.6 L502.9 430.8 L505.5 421.0 L508.5 411.5 L511.9 402.1 L515.8 392.9 L520.2 383.9 L524.9 375.2 L530.0 366.7 L535.6 358.4 L541.3 350.6 L547.5 342.9 L553.9 335.5 L563.8 325.2 L570.9 318.5 L581.6 309.2 L589.1 303.4 L598.1 296.7 L599.6 296.1 L600.4 296.0 L608.2 295.9 L609.5 295.5 L610.7 294.9 L612.1 293.8 L613.4 291.9 L613.9 290.2 L614.1 287.7 L614.3 287.0 L614.7 286.2 L615.9 285.1 L623.9 280.5 L631.9 276.1 L640.0 272.0 L648.2 268.2 L656.4 264.6 L668.9 259.6 L681.5 255.2 L694.2 251.3 L707.0 248.0 L719.9 245.3 L735.2 242.9 L740.0 242.9 L742.2 242.6 L744.5 242.0 L746.5 241.2 L748.4 240.2 L751.8 237.5 L753.5 235.7 L801.6 181.3 L802.5 179.9 L803.1 178.4 L803.4 176.6 L803.3 175.1 L803.0 173.7 L801.6 171.1 L800.2 169.5 L747.8 115.4 L745.8 113.9 L744.2 113.0 L742.3 112.2 L740.0 111.7 L738.0 111.6 L736.2 111.7 L731.2 112.8 L714.2 114.4 L693.4 117.2 L679.5 119.5 L665.7 122.3 L651.8 125.4 L638.0 129.0 L624.3 132.9 L610.7 137.3 L597.1 142.2 L583.6 147.6 L570.3 153.4 L557.1 159.7 L544.0 166.5 L531.2 173.9 L518.5 181.7 L506.2 190.1 L494.1 199.0 L488.1 203.6 L476.6 213.3 L470.9 218.3 L459.9 228.8 L454.5 234.2 L444.1 245.5 L434.2 257.2 L429.4 263.3 L420.3 275.6 L416.0 282.0 L411.7 288.5 L403.7 301.8 L396.3 315.5 L389.5 329.4 L386.4 336.6 L380.6 351.0 L377.9 358.4 L373.1 373.3 L370.9 380.8 L367.1 396.0 L364.1 411.4 L361.7 426.8 L360.7 434.7 L360.0 442.5 L359.0 458.1Z" fill="#a32462" opacity="0.58"/>
<path d="M358.6 480.3 L359.2 480.6 L360.3 480.0 L425.6 427.1 L427.3 425.9 L428.9 425.1 L430.5 424.6 L432.1 424.4 L434.5 424.6 L436.1 425.1 L437.7 426.0 L439.3 427.2 L496.0 474.1 L497.0 474.7 L497.6 474.6 L498.0 473.6 L498.1 465.7 L498.0 469.3 L488.4 461.4 L488.4 460.6 L492.7 464.2 L493.4 455.0 L494.7 444.9 L495.5 439.5 L497.6 429.6 L498.9 424.3 L501.7 414.6 L503.3 409.5 L506.8 400.0 L510.8 390.6 L515.4 381.2 L520.2 372.3 L528.2 359.5 L533.9 351.2 L540.1 343.2 L546.5 335.5 L556.6 324.6 L563.6 317.7 L574.5 308.0 L585.6 299.0 L595.0 292.2 L597.2 291.1 L599.0 290.6 L606.7 290.5 L607.8 290.2 L608.4 289.3 L608.8 286.1 L609.5 284.3 L610.6 282.6 L612.6 280.8 L625.3 273.4 L633.4 269.2 L641.7 265.1 L654.2 259.5 L666.9 254.5 L679.7 250.0 L692.6 246.1 L705.7 242.7 L714.5 240.8 L723.3 239.1 L732.2 237.8 L735.0 237.4 L738.0 237.5 L741.2 237.2 L744.0 236.2 L745.4 235.5 L748.1 233.5 L749.5 232.0 L796.3 179.2 L797.6 177.4 L797.9 176.0 L797.1 174.3 L795.9 172.9 L799.6 168.8 L800.2 169.5 L749.5 117.0 L747.8 115.4 L745.8 113.9 L744.2 113.0 L742.3 112.2 L740.0 111.7 L738.0 111.6 L736.2 111.7 L731.2 112.8 L714.2 114.4 L693.4 117.2 L679.5 119.5 L665.7 122.3 L651.8 125.4 L638.0 129.0 L624.3 132.9 L610.7 137.3 L597.1 142.2 L583.6 147.6 L570.3 153.4 L557.1 159.7 L544.0 166.5 L531.2 173.9 L518.5 181.7 L506.2 190.1 L494.1 199.0 L488.1 203.6 L476.6 213.3 L470.9 218.3 L459.9 228.8 L454.5 234.2 L444.1 245.5 L434.2 257.2 L429.4 263.3 L420.3 275.6 L416.0 282.0 L411.7 288.5 L403.7 301.8 L396.3 315.5 L389.5 329.4 L386.4 336.6 L380.6 351.0 L377.9 358.4 L373.1 373.3 L370.9 380.8 L367.1 396.0 L364.1 411.4 L361.7 426.8 L360.7 434.7 L360.0 442.5 L359.0 458.1 L358.7 473.7 L358.4 479.1Z" fill="#f8a8c6"/>
<path d="M363.4 471.6 L422.8 423.4 L424.9 422.0 L427.0 420.9 L429.3 420.1 L431.7 419.8 L434.1 419.9 L436.4 420.4 L438.5 421.2 L440.8 422.6 L488.0 461.4 L488.1 460.6 L488.7 460.4 L492.4 463.4 L493.0 454.9 L494.3 444.6 L496.1 434.4 L498.5 424.3 L501.3 414.5 L504.6 404.7 L508.4 395.1 L512.7 385.7 L517.3 376.7 L522.4 367.8 L527.8 359.3 L533.7 350.9 L539.8 343.0 L546.2 335.3 L552.9 327.9 L563.2 317.6 L570.5 311.0 L577.9 304.6 L585.5 298.7 L594.7 291.9 L597.0 290.7 L599.0 290.2 L606.7 290.1 L607.6 289.9 L608.0 289.2 L608.4 286.0 L609.2 284.1 L610.3 282.4 L612.3 280.4 L621.0 275.4 L629.2 270.9 L637.4 266.7 L645.8 262.8 L658.3 257.4 L671.0 252.6 L679.7 249.6 L692.6 245.7 L705.6 242.3 L714.4 240.4 L723.3 238.7 L732.1 237.4 L735.0 237.0 L738.0 237.1 L741.1 236.8 L743.9 235.9 L745.2 235.2 L747.8 233.2 L749.2 231.8 L796.0 178.9 L797.2 177.2 L797.5 176.3 L797.2 175.2 L795.5 173.0 L795.6 172.7 L796.2 171.9 L746.2 120.2 L744.8 118.8 L742.1 117.1 L739.5 116.3 L736.6 116.3 L731.6 117.4 L714.7 119.0 L700.9 120.7 L687.2 122.9 L673.5 125.4 L652.9 129.9 L639.3 133.4 L625.7 137.3 L612.2 141.7 L598.8 146.5 L585.4 151.8 L572.2 157.6 L559.2 163.8 L546.3 170.6 L533.6 177.8 L521.1 185.5 L508.9 193.8 L496.9 202.6 L491.1 207.2 L479.6 216.8 L474.0 221.7 L463.1 232.1 L457.8 237.4 L447.6 248.5 L437.8 260.1 L433.1 266.0 L424.1 278.3 L419.8 284.6 L411.6 297.5 L407.7 304.0 L400.4 317.5 L393.7 331.3 L390.6 338.4 L384.9 352.7 L379.8 367.2 L377.5 374.6 L373.4 389.5 L370.0 404.5 L368.6 412.1 L366.2 427.4 L365.3 435.1 L364.0 450.5 L363.6 458.2Z" fill="url(#gTL)"/>
<path d="M773.0 112.7 L773.7 113.9 L824.3 169.3 L825.8 171.1 L826.7 172.6 L827.2 174.2 L827.5 175.7 L827.3 177.9 L826.8 179.5 L825.9 181.1 L824.7 182.8 L776.7 239.1 L776.0 240.1 L776.2 240.7 L777.1 240.8 L779.6 240.7 L783.6 240.8 L792.2 241.4 L805.2 242.8 L818.0 244.8 L826.5 246.5 L834.9 248.5 L847.4 252.0 L859.9 256.1 L872.1 260.8 L880.2 264.3 L888.1 268.0 L889.9 269.2 L890.7 270.4 L890.9 271.2 L891.0 293.4 L891.2 294.9 L891.5 296.0 L892.6 297.6 L893.5 298.4 L894.9 299.1 L897.1 299.5 L938.1 299.5 L939.8 299.9 L941.0 300.7 L951.6 309.2 L958.5 315.2 L968.5 324.5 L975.1 331.2 L984.5 341.5 L990.6 348.7 L999.2 359.9 L1004.6 367.8 L1009.9 375.9 L1014.7 384.2 L1019.3 392.8 L1023.5 401.4 L1027.4 410.5 L1030.9 419.7 L1033.9 429.0 L1036.8 439.7 L1037.6 442.1 L1039.5 446.1 L1042.2 449.8 L1043.9 451.6 L1047.5 454.6 L1103.6 494.9 L1105.4 496.0 L1108.3 497.1 L1109.9 497.4 L1111.4 497.3 L1113.3 496.8 L1114.8 496.2 L1116.2 495.2 L1171.9 443.9 L1173.7 442.1 L1176.0 438.7 L1177.0 436.5 L1177.5 434.5 L1177.8 432.6 L1177.8 430.2 L1177.6 428.0 L1174.5 414.0 L1172.6 406.6 L1168.4 392.1 L1163.6 377.6 L1161.0 370.5 L1155.4 356.5 L1152.4 349.6 L1146.1 336.1 L1142.7 329.3 L1135.6 316.2 L1128.1 303.4 L1124.1 297.1 L1116.0 284.8 L1107.3 272.8 L1102.8 267.0 L1093.7 255.6 L1084.0 244.6 L1079.1 239.2 L1069.0 228.8 L1058.5 218.8 L1047.8 209.3 L1042.2 204.6 L1031.0 195.7 L1025.3 191.4 L1013.7 183.2 L1001.8 175.4 L995.8 171.6 L983.6 164.5 L971.1 157.9 L964.9 154.7 L952.2 148.8 L939.3 143.3 L919.8 135.9 L906.7 131.5 L886.8 125.8 L866.7 121.1 L846.5 117.4 L826.2 114.5 L812.7 113.2 L799.2 112.2 L778.9 111.4 L773.9 111.9 L773.2 112.2Z" fill="#c6bde0"/>
<path d="M773.0 112.8 L773.7 113.9 L824.3 169.3 L825.8 171.1 L826.7 172.6 L827.2 174.2 L827.5 175.7 L827.3 177.9 L826.8 179.5 L825.9 181.1 L824.7 182.8 L776.7 239.1 L776.0 240.1 L776.2 240.7 L777.1 240.8 L781.6 240.8 L789.8 231.2 L790.5 231.3 L786.9 235.5 L801.5 236.8 L814.6 238.6 L827.6 241.1 L840.5 244.3 L853.3 248.1 L865.9 252.5 L878.3 257.4 L890.6 263.1 L892.3 264.0 L894.3 265.9 L895.6 268.0 L896.4 270.6 L896.5 283.6 L891.0 280.6 L891.1 294.5 L891.4 295.6 L892.1 297.0 L892.9 297.9 L894.0 298.7 L894.0 290.5 L896.5 290.5 L896.5 293.6 L896.9 294.0 L938.1 294.0 L940.7 294.4 L942.6 295.1 L943.8 295.9 L951.6 302.1 L962.2 311.1 L972.3 320.6 L979.1 327.4 L988.6 337.8 L994.8 345.3 L1003.6 356.7 L1009.2 364.7 L1014.5 373.0 L1019.5 381.5 L1024.2 390.3 L1028.5 399.2 L1032.5 408.5 L1036.0 417.9 L1039.1 427.4 L1042.7 440.0 L1044.3 443.3 L1046.4 446.3 L1049.1 448.9 L1050.7 450.2 L1107.9 491.1 L1109.6 491.8 L1110.8 491.8 L1112.1 491.4 L1113.9 490.0 L1116.8 492.1 L1118.3 493.4 L1117.6 494.1 L1171.9 443.9 L1173.7 442.1 L1176.0 438.7 L1177.0 436.5 L1177.5 434.5 L1177.8 432.6 L1177.8 430.2 L1177.6 428.0 L1174.5 414.0 L1172.6 406.6 L1168.4 392.1 L1163.6 377.6 L1161.0 370.5 L1155.4 356.5 L1152.4 349.6 L1146.1 336.1 L1142.7 329.3 L1135.6 316.2 L1128.1 303.4 L1124.1 297.1 L1116.0 284.8 L1107.3 272.8 L1102.8 267.0 L1093.7 255.6 L1084.0 244.6 L1079.1 239.2 L1069.0 228.8 L1058.5 218.8 L1047.8 209.3 L1042.2 204.6 L1031.0 195.7 L1025.3 191.4 L1013.7 183.2 L1001.8 175.4 L995.8 171.6 L983.6 164.5 L971.1 157.9 L964.9 154.7 L952.2 148.8 L939.3 143.3 L919.8 135.9 L906.7 131.5 L886.8 125.8 L866.7 121.1 L846.5 117.4 L826.2 114.5 L812.7 113.2 L799.2 112.2 L778.9 111.4 L773.9 111.9 L773.2 112.2Z" fill="#ffffff"/>
<path d="M781.9 116.1 L828.0 166.4 L829.5 168.4 L830.9 170.8 L831.7 173.2 L832.1 175.6 L832.0 177.6 L831.5 179.9 L830.7 182.0 L829.3 184.3 L789.8 230.8 L790.6 230.9 L790.8 231.5 L787.7 235.2 L801.5 236.4 L814.7 238.3 L827.7 240.8 L840.6 243.9 L853.4 247.7 L866.1 252.1 L878.5 257.1 L891.4 263.0 L893.4 264.3 L895.1 266.2 L896.0 267.8 L896.8 270.6 L896.9 283.4 L896.4 283.9 L895.6 283.5 L895.6 290.1 L896.5 290.1 L896.9 290.4 L897.0 293.6 L938.7 293.6 L940.8 294.0 L942.8 294.8 L948.3 298.9 L958.9 307.6 L965.9 313.9 L976.0 323.6 L982.6 330.5 L992.0 341.2 L998.1 348.7 L1004.0 356.5 L1009.6 364.5 L1014.9 372.8 L1019.9 381.3 L1024.6 390.1 L1028.9 399.0 L1032.9 408.3 L1036.4 417.7 L1039.5 427.3 L1043.1 439.9 L1044.6 443.1 L1046.7 446.0 L1049.3 448.6 L1051.0 449.9 L1108.2 490.8 L1109.7 491.4 L1110.7 491.4 L1111.9 491.0 L1113.8 489.6 L1114.2 489.7 L1115.0 490.3 L1170.1 439.1 L1171.2 437.8 L1172.6 435.0 L1173.2 432.1 L1173.1 428.9 L1170.0 415.2 L1168.1 407.9 L1164.0 393.4 L1159.3 379.2 L1156.7 372.2 L1151.2 358.3 L1148.2 351.5 L1142.0 338.1 L1138.6 331.5 L1131.6 318.5 L1124.2 305.8 L1120.3 299.6 L1112.2 287.4 L1103.7 275.6 L1099.2 269.8 L1090.1 258.6 L1080.6 247.7 L1075.8 242.4 L1065.8 232.1 L1055.4 222.2 L1050.1 217.5 L1039.3 208.2 L1028.2 199.4 L1022.6 195.1 L1011.1 187.0 L999.4 179.3 L993.4 175.6 L981.3 168.6 L969.1 162.0 L962.9 158.9 L950.3 153.0 L937.6 147.5 L918.3 140.2 L905.3 135.9 L885.7 130.3 L872.4 127.1 L852.5 123.0 L839.1 120.9 L819.0 118.4 L798.9 116.8Z" fill="url(#gTR)"/>
<path d="M1178.5 464.3 L1179.6 464.0 L1180.5 464.5 L1183.6 470.8 L1184.5 486.7 L1184.7 502.7 L1184.1 518.7 L1182.8 534.6 L1181.9 542.5 L1179.4 558.4 L1177.8 566.2 L1174.2 581.8 L1172.0 589.6 L1167.2 604.8 L1164.5 612.4 L1158.5 627.2 L1155.3 634.5 L1148.2 648.9 L1144.4 655.9 L1136.3 669.6 L1131.9 676.3 L1122.8 689.3 L1118.0 695.6 L1108.0 707.9 L1097.4 719.6 L1091.9 725.2 L1080.5 736.0 L1074.6 741.2 L1062.6 751.2 L1056.4 755.9 L1043.9 764.9 L1037.4 769.2 L1024.4 777.4 L1011.1 784.9 L997.6 791.8 L983.9 798.2 L970.1 804.0 L956.2 809.3 L942.3 814.1 L928.2 818.4 L914.2 822.3 L900.1 825.7 L879.1 830.0 L865.0 832.5 L844.0 835.4 L830.0 837.0 L810.7 838.6 L806.2 838.4 L804.0 837.9 L802.0 837.2 L800.0 836.3 L796.3 833.7 L736.7 772.5 L735.8 771.1 L735.2 769.7 L734.9 768.2 L734.9 766.8 L735.2 765.4 L735.8 763.9 L736.7 762.5 L786.1 711.9 L787.9 710.2 L791.6 707.6 L793.5 706.6 L797.7 705.3 L799.9 705.0 L804.5 705.0 L819.9 702.7 L837.1 699.3 L849.9 696.2 L862.7 692.6 L875.5 688.5 L888.2 683.8 L900.9 678.6 L913.4 672.8 L925.9 666.3 L938.2 659.2 L946.2 654.0 L958.0 645.7 L965.7 639.7 L976.8 630.0 L984.0 623.1 L994.2 612.2 L1000.5 604.4 L1006.6 596.4 L1012.2 588.0 L1017.5 579.3 L1022.3 570.3 L1026.6 561.0 L1030.5 551.5 L1033.8 541.8 L1036.6 532.0 L1038.9 521.9 L1040.6 511.8 L1041.7 501.6 L1042.3 491.3 L1042.4 486.2 L1042.1 475.9 L1041.1 472.7 L1041.1 472.0 L1041.3 471.7 L1042.5 472.3 L1102.8 517.7 L1106.0 519.5 L1107.6 520.0 L1109.1 520.3 L1110.7 520.2 L1112.2 519.9 L1113.8 519.3 L1116.8 517.2Z" fill="url(#gBR)"/>
<path d="M1178.5 464.3 L1179.6 464.0 L1180.5 464.5 L1183.6 470.8 L1184.5 486.7 L1184.7 502.7 L1184.1 518.7 L1182.8 534.6 L1181.9 542.5 L1179.4 558.4 L1177.8 566.2 L1174.2 581.8 L1172.0 589.6 L1167.2 604.8 L1164.5 612.4 L1158.5 627.2 L1155.3 634.5 L1148.2 648.9 L1144.4 655.9 L1136.3 669.6 L1131.9 676.3 L1122.8 689.3 L1118.0 695.6 L1108.0 707.9 L1097.4 719.6 L1091.9 725.2 L1080.5 736.0 L1074.6 741.2 L1062.6 751.2 L1056.4 755.9 L1043.9 764.9 L1037.4 769.2 L1024.4 777.4 L1011.1 784.9 L997.6 791.8 L983.9 798.2 L970.1 804.0 L956.2 809.3 L942.3 814.1 L928.2 818.4 L914.2 822.3 L900.1 825.7 L879.1 830.0 L865.0 832.5 L844.0 835.4 L830.0 837.0 L810.7 838.6 L806.2 838.4 L804.0 837.9 L802.0 837.2 L800.0 836.3 L796.3 833.7 L736.7 772.5 L735.8 771.1 L735.2 769.7 L734.9 768.2 L734.9 766.8 L735.2 765.4 L735.8 763.9 L736.7 762.5 L786.1 711.9 L787.9 710.2 L791.6 707.6 L793.5 706.6 L797.7 705.3 L799.9 705.0 L804.5 705.0 L819.9 702.7 L837.1 699.3 L849.9 696.2 L862.7 692.6 L875.5 688.5 L888.2 683.8 L900.9 678.6 L913.4 672.8 L925.9 666.3 L938.2 659.2 L946.2 654.0 L958.0 645.7 L965.7 639.7 L976.8 630.0 L984.0 623.1 L994.2 612.2 L1000.5 604.4 L1006.6 596.4 L1012.2 588.0 L1017.5 579.3 L1022.3 570.3 L1026.6 561.0 L1030.5 551.5 L1033.8 541.8 L1036.6 532.0 L1038.9 521.9 L1040.6 511.8 L1041.7 501.6 L1042.3 491.3 L1042.4 486.2 L1042.1 475.9 L1041.1 472.7 L1041.1 472.0 L1041.3 471.7 L1042.5 472.3 L1102.8 517.7 L1106.0 519.5 L1107.6 520.0 L1109.1 520.3 L1110.7 520.2 L1112.2 519.9 L1113.8 519.3 L1116.8 517.2Z" fill="#a32462" opacity="0.58"/>
<path d="M1174.2 581.8 L1177.8 566.2 L1180.7 550.5 L1182.8 534.6 L1184.1 518.7 L1184.5 510.7 L1184.7 494.7 L1184.5 486.7 L1183.6 470.8 L1181.1 465.3 L1180.3 464.2 L1179.3 464.0 L1178.1 464.6 L1116.8 517.2 L1113.8 519.3 L1112.2 519.9 L1110.7 520.2 L1109.1 520.3 L1107.6 520.0 L1106.0 519.5 L1102.8 517.7 L1042.5 472.3 L1043.7 473.2 L1043.8 486.3 L1043.2 496.6 L1042.7 501.7 L1041.3 511.9 L1039.3 522.0 L1036.8 531.9 L1032.2 546.7 L1028.6 556.3 L1024.5 565.7 L1020.0 574.8 L1014.9 583.6 L1009.5 592.2 L1003.6 600.4 L997.4 608.3 L990.8 615.9 L980.4 626.6 L973.2 633.3 L961.9 642.7 L954.1 648.5 L942.2 656.6 L934.1 661.6 L921.7 668.5 L913.4 672.8 L900.9 678.6 L888.2 683.8 L875.5 688.5 L862.7 692.6 L849.9 696.2 L837.1 699.3 L819.9 702.7 L804.5 705.0 L799.9 705.0 L797.7 705.3 L793.5 706.6 L791.6 707.6 L787.9 710.2 L786.1 711.9 L738.0 761.1 L736.7 762.5 L735.8 763.9 L736.4 763.1 L736.7 764.7 L737.3 766.1 L738.2 767.5 L739.5 769.0 L796.0 827.1 L797.8 828.7 L801.5 831.3 L803.5 832.2 L805.5 832.9 L807.7 833.4 L812.2 833.6 L824.5 832.6 L838.5 831.2 L852.5 829.5 L873.5 826.3 L894.6 822.2 L915.7 817.3 L936.8 811.3 L950.8 806.8 L957.7 804.3 L971.6 799.0 L978.6 796.2 L992.3 790.1 L999.1 786.8 L1012.6 779.9 L1025.9 772.4 L1032.5 768.4 L1045.4 759.9 L1057.9 750.9 L1064.1 746.2 L1076.1 736.2 L1087.7 725.7 L1093.4 720.2 L1104.2 708.8 L1114.6 696.8 L1119.5 690.6 L1128.9 677.9 L1137.8 664.6 L1145.9 650.9 L1153.3 636.8 L1156.8 629.5 L1163.1 614.9 L1168.7 599.8 L1171.2 592.2Z" fill="#f48fb4"/>
<path d="M739.8 768.7 L798.0 828.4 L801.7 831.0 L803.6 831.9 L805.7 832.6 L807.8 833.0 L812.2 833.2 L831.5 831.6 L845.5 830.0 L859.5 828.1 L873.5 825.9 L894.5 821.8 L908.6 818.6 L922.6 815.0 L936.6 811.0 L950.6 806.4 L961.6 802.5 L975.3 797.0 L988.8 790.9 L1002.3 784.3 L1015.5 777.2 L1028.5 769.5 L1041.3 761.2 L1053.7 752.2 L1059.8 747.6 L1071.6 737.8 L1077.4 732.6 L1088.6 722.0 L1094.0 716.4 L1104.5 704.9 L1114.4 692.8 L1119.1 686.6 L1128.1 673.8 L1132.4 667.2 L1140.4 653.7 L1144.1 646.7 L1151.1 632.6 L1157.4 618.1 L1160.2 610.8 L1165.3 595.8 L1167.6 588.3 L1171.6 573.0 L1173.3 565.3 L1176.2 549.8 L1178.2 534.1 L1179.0 526.2 L1179.9 510.5 L1180.1 502.6 L1179.9 486.9 L1179.1 472.0 L1178.4 470.4 L1119.6 520.9 L1117.6 522.4 L1115.5 523.6 L1113.2 524.4 L1110.9 524.8 L1108.5 524.8 L1106.1 524.4 L1103.9 523.7 L1100.3 521.5 L1046.9 481.4 L1046.9 491.5 L1046.3 502.0 L1045.1 512.5 L1043.4 522.9 L1041.1 533.0 L1038.2 543.2 L1034.8 553.1 L1030.8 562.9 L1026.4 572.3 L1021.5 581.5 L1016.2 590.4 L1010.3 599.1 L1004.1 607.3 L997.6 615.2 L990.7 622.8 L980.0 633.3 L972.5 640.0 L964.7 646.4 L956.8 652.3 L944.6 660.5 L936.4 665.6 L923.9 672.6 L911.2 678.9 L898.4 684.6 L889.8 688.1 L876.9 692.8 L864.0 697.0 L851.0 700.6 L838.0 703.8 L820.7 707.2 L805.1 709.5 L802.1 709.5 L798.6 709.8 L797.0 710.2 L793.8 711.6 L790.9 713.7 L789.3 715.2 L741.4 764.2 L740.4 765.3 L739.6 766.8 L739.5 767.7Z" fill="url(#gBR)"/>
<path d="M739.8 768.7 L798.0 828.4 L801.7 831.0 L803.6 831.9 L805.7 832.6 L807.8 833.0 L812.2 833.2 L831.5 831.6 L845.5 830.0 L859.5 828.1 L873.5 825.9 L894.5 821.8 L908.6 818.6 L922.6 815.0 L936.6 811.0 L950.6 806.4 L961.6 802.5 L975.3 797.0 L988.8 790.9 L1002.3 784.3 L1015.5 777.2 L1028.5 769.5 L1041.3 761.2 L1053.7 752.2 L1059.8 747.6 L1071.6 737.8 L1077.4 732.6 L1088.6 722.0 L1094.0 716.4 L1104.5 704.9 L1114.4 692.8 L1119.1 686.6 L1128.1 673.8 L1132.4 667.2 L1140.4 653.7 L1144.1 646.7 L1151.1 632.6 L1157.4 618.1 L1160.2 610.8 L1165.3 595.8 L1167.6 588.3 L1171.6 573.0 L1173.3 565.3 L1176.2 549.8 L1178.2 534.1 L1179.0 526.2 L1179.9 510.5 L1180.1 502.6 L1179.9 486.9 L1179.1 472.0 L1178.4 470.4 L1119.6 520.9 L1117.6 522.4 L1115.5 523.6 L1113.2 524.4 L1110.9 524.8 L1108.5 524.8 L1106.1 524.4 L1103.9 523.7 L1100.3 521.5 L1046.9 481.4 L1046.9 491.5 L1046.3 502.0 L1045.1 512.5 L1043.4 522.9 L1041.1 533.0 L1038.2 543.2 L1034.8 553.1 L1030.8 562.9 L1026.4 572.3 L1021.5 581.5 L1016.2 590.4 L1010.3 599.1 L1004.1 607.3 L997.6 615.2 L990.7 622.8 L980.0 633.3 L972.5 640.0 L964.7 646.4 L956.8 652.3 L944.6 660.5 L936.4 665.6 L923.9 672.6 L911.2 678.9 L898.4 684.6 L889.8 688.1 L876.9 692.8 L864.0 697.0 L851.0 700.6 L838.0 703.8 L820.7 707.2 L805.1 709.5 L802.1 709.5 L798.6 709.8 L797.0 710.2 L793.8 711.6 L790.9 713.7 L789.3 715.2 L741.4 764.2 L740.4 765.3 L739.6 766.8 L739.5 767.7Z" fill="url(#gBRo)"/>
<path d="M583.3 644.5 L572.6 635.2 L565.7 628.6 L558.9 621.7 L552.5 614.6 L543.3 603.3 L537.5 595.5 L531.9 587.3 L526.8 578.9 L522.0 570.2 L517.5 561.3 L513.5 552.2 L509.9 542.9 L506.7 533.3 L504.0 523.6 L501.8 513.8 L501.1 509.9 L500.6 505.1 L500.1 503.0 L499.2 500.7 L497.1 496.9 L494.2 493.7 L492.3 492.1 L438.3 450.5 L436.7 449.7 L435.2 449.1 L433.3 448.9 L431.7 448.9 L430.2 449.3 L428.7 449.9 L427.2 450.7 L366.4 502.1 L364.6 503.8 L363.2 505.5 L362.1 507.3 L361.4 508.9 L360.9 510.8 L360.7 512.8 L360.8 515.1 L362.0 519.7 L363.9 532.2 L366.8 547.5 L368.6 555.1 L372.5 570.1 L377.1 585.0 L379.6 592.4 L385.1 606.8 L391.3 621.1 L394.5 628.1 L401.5 641.8 L409.1 655.2 L417.2 668.2 L425.8 680.9 L434.9 693.1 L439.6 699.1 L449.5 710.6 L454.6 716.2 L465.0 727.1 L476.0 737.5 L481.6 742.5 L493.0 752.1 L504.8 761.2 L517.0 769.8 L529.4 777.9 L535.7 781.7 L548.5 788.9 L561.5 795.6 L568.1 798.8 L581.3 804.7 L594.8 810.1 L601.5 812.6 L615.1 817.3 L628.8 821.4 L649.4 826.8 L663.2 829.8 L683.9 833.5 L697.8 835.5 L718.5 837.7 L739.3 839.2 L753.0 839.7 L766.3 839.9 L771.8 841.3 L772.7 841.3 L772.7 840.9 L772.1 840.0 L709.1 772.4 L707.7 770.6 L706.8 769.1 L706.3 767.5 L706.1 766.1 L706.3 764.0 L707.0 762.5 L707.9 761.0 L709.3 759.5 L763.2 706.8 L764.0 705.8 L761.0 707.3 L760.3 707.5 L756.3 707.5 L747.7 707.2 L739.2 706.6 L730.6 705.8 L722.0 704.7 L709.1 702.6 L696.3 699.9 L683.5 696.6 L670.9 692.7 L658.4 688.2 L650.1 684.8 L647.9 683.8 L646.8 682.6 L646.3 681.1 L646.3 680.2 L646.7 678.7 L647.7 677.4 L650.1 675.4 L652.2 672.8 L653.6 670.2 L654.6 667.0 L655.0 663.4 L654.7 659.4 L653.6 655.8 L652.0 652.9 L650.1 650.6 L647.3 648.3 L644.7 646.9 L641.5 645.9 L638.1 645.5 L586.0 645.5 L584.2 645.1Z" fill="#cfc7e6"/>
<path d="M583.3 644.5 L572.6 635.2 L565.7 628.6 L558.9 621.7 L552.5 614.6 L543.3 603.3 L537.5 595.5 L531.9 587.3 L526.8 578.9 L522.0 570.2 L517.5 561.3 L513.5 552.2 L509.9 542.9 L506.7 533.3 L504.0 523.6 L501.8 513.8 L501.1 509.9 L500.6 505.1 L500.1 503.0 L499.2 500.7 L497.1 496.9 L494.2 493.7 L492.3 492.1 L438.3 450.5 L436.7 449.7 L435.2 449.1 L433.3 448.9 L431.7 448.9 L430.2 449.3 L428.7 449.9 L427.2 450.7 L366.4 502.1 L364.6 503.8 L363.2 505.5 L362.1 507.3 L361.4 508.9 L360.9 510.8 L360.7 512.8 L360.8 515.1 L362.0 519.7 L363.9 532.2 L366.8 547.5 L368.6 555.1 L372.5 570.1 L377.1 585.0 L379.6 592.4 L385.1 606.8 L391.3 621.1 L394.5 628.1 L401.5 641.8 L409.1 655.2 L417.2 668.2 L425.8 680.9 L434.9 693.1 L439.6 699.1 L449.5 710.6 L454.6 716.2 L465.0 727.1 L476.0 737.5 L481.6 742.5 L493.0 752.1 L504.8 761.2 L517.0 769.8 L529.4 777.9 L535.7 781.7 L548.5 788.9 L561.5 795.6 L568.1 798.8 L581.3 804.7 L594.8 810.1 L601.5 812.6 L615.1 817.3 L628.8 821.4 L649.4 826.8 L663.2 829.8 L683.9 833.5 L697.8 835.5 L718.5 837.7 L739.3 839.2 L753.0 839.7 L766.3 839.9 L771.8 841.3 L772.7 841.3 L772.7 840.9 L772.1 840.0 L709.1 772.4 L707.7 770.6 L706.8 769.1 L706.3 767.5 L706.1 766.1 L706.3 764.0 L707.0 762.5 L707.9 761.0 L709.3 759.5 L763.2 706.8 L764.0 705.8 L761.0 707.3 L760.3 707.5 L756.3 707.5 L747.7 707.2 L739.2 706.6 L730.6 705.8 L722.0 704.7 L709.1 702.6 L696.3 699.9 L683.5 696.6 L670.9 692.7 L658.4 688.2 L650.1 684.8 L647.9 683.8 L646.8 682.6 L646.3 681.1 L646.3 680.2 L646.7 678.7 L647.7 677.4 L650.1 675.4 L652.2 672.8 L653.6 670.2 L654.6 667.0 L655.0 663.4 L654.7 659.4 L653.6 655.8 L652.0 652.9 L650.1 650.6 L647.3 648.3 L644.7 646.9 L641.5 645.9 L638.1 645.5 L586.0 645.5 L584.2 645.1Z" fill="#ffffff"/>
<path d="M365.3 513.0 L365.7 516.0 L366.5 519.1 L368.4 531.4 L369.8 539.0 L373.0 554.0 L376.9 568.9 L381.5 583.5 L386.6 598.0 L392.3 612.1 L398.7 626.0 L402.0 632.8 L409.2 646.2 L416.9 659.3 L425.2 672.0 L433.9 684.3 L438.5 690.2 L448.0 701.9 L457.9 713.1 L468.3 723.8 L479.0 734.1 L484.6 739.0 L495.9 748.5 L507.6 757.5 L519.5 766.0 L531.8 773.9 L538.0 777.7 L550.7 784.9 L563.5 791.5 L570.0 794.6 L583.1 800.5 L596.4 805.8 L603.1 808.3 L616.5 812.9 L630.0 817.0 L650.4 822.3 L664.1 825.3 L684.6 828.9 L698.3 830.9 L718.9 833.1 L739.5 834.6 L761.4 835.3 L705.5 775.2 L703.9 773.3 L702.7 771.1 L701.9 768.8 L701.5 766.4 L701.6 764.0 L702.4 761.4 L704.1 758.4 L705.9 756.4 L751.3 711.9 L734.5 710.8 L721.4 709.3 L708.3 707.1 L695.3 704.4 L682.3 701.0 L669.4 697.1 L656.7 692.5 L646.4 688.2 L644.3 686.7 L642.7 684.6 L641.8 682.2 L641.7 679.5 L642.4 677.0 L643.3 675.5 L644.4 674.2 L646.8 672.3 L648.3 670.4 L649.4 668.2 L650.1 665.9 L650.4 662.7 L650.1 660.1 L649.4 657.8 L648.3 655.6 L646.8 653.7 L644.9 652.2 L642.7 651.1 L640.4 650.4 L637.8 650.1 L586.0 650.1 L584.6 650.0 L582.7 649.4 L580.4 648.0 L569.5 638.6 L562.5 631.9 L555.6 624.9 L549.0 617.6 L539.7 606.2 L533.7 598.2 L528.1 589.8 L522.9 581.3 L517.9 572.4 L513.4 563.4 L511.2 558.6 L507.4 549.3 L503.9 539.5 L500.9 529.9 L499.6 524.9 L497.3 514.7 L496.5 510.4 L496.1 505.9 L495.6 504.2 L494.3 501.1 L493.4 499.7 L491.0 497.0 L489.4 495.7 L437.0 455.2 L434.8 453.9 L433.9 453.6 L432.4 453.5 L430.8 454.0 L428.6 455.4 L369.5 505.5 L368.0 506.9 L366.3 509.3 L365.7 510.5Z" fill="url(#gBL)"/>
<mask id="fmask" maskUnits="userSpaceOnUse" x="0" y="0" width="1536" height="1024">
<circle cx="401" cy="297" r="55" fill="url(#fm)" opacity="1"/>
<circle cx="690" cy="117" r="60" fill="url(#fm)" opacity="0.7"/>
<circle cx="885" cy="125" r="50" fill="url(#fm)" opacity="0.6"/>
<circle cx="575" cy="150" r="70" fill="url(#fm)" opacity="0.7"/>
<circle cx="1010" cy="186" r="80" fill="url(#fm)" opacity="0.9"/>
<circle cx="1140" cy="322" r="75" fill="url(#fm)" opacity="1"/>
<circle cx="1166" cy="600" r="55" fill="url(#fm)" opacity="1"/>
<circle cx="1000" cy="790" r="60" fill="url(#fm)" opacity="1"/>
<circle cx="380" cy="590" r="60" fill="url(#fm)" opacity="1"/>
<circle cx="505" cy="755" r="70" fill="url(#fm)" opacity="0.9"/>
<circle cx="590" cy="640" r="45" fill="url(#fm)" opacity="0.8"/>
<circle cx="1041" cy="520" r="34" fill="url(#fm)" opacity="0.7"/>
</mask>
<g mask="url(#fmask)">
<path d="M360.9 476.5 L424.0 425.4 L426.1 424.0 L428.0 423.0 L429.9 422.4 L431.9 422.1 L433.8 422.2 L435.9 422.6 L438.8 424.0 L440.8 425.4 L495.7 470.8 L495.7 470.4 L486.6 462.8 L486.1 461.7 L486.1 460.5 L486.4 459.6 L486.9 458.9 L488.2 458.3 L489.5 458.6 L490.7 459.5 L491.7 449.7 L492.4 444.3 L494.2 434.2 L495.4 428.9 L496.6 423.7 L499.5 413.9 L501.1 408.8 L504.7 399.1 L508.8 389.5 L513.3 380.2 L518.2 371.1 L526.2 358.2 L532.1 349.9 L538.3 341.7 L548.0 330.4 L555.0 323.0 L562.0 316.1 L573.0 306.3 L584.2 297.2 L593.6 290.3 L596.3 289.0 L598.6 288.4 L600.4 288.2 L606.2 288.2 L606.6 285.6 L607.5 283.1 L608.8 281.1 L611.2 278.9 L624.2 271.4 L632.4 267.1 L640.7 263.0 L653.4 257.4 L666.1 252.3 L679.0 247.8 L692.0 243.9 L705.1 240.5 L714.1 238.5 L722.9 236.9 L731.9 235.5 L734.8 235.1 L738.0 235.2 L740.7 234.9 L743.1 234.1 L744.2 233.5 L746.5 231.8 L747.8 230.5 L794.5 177.7 L795.6 176.2 L794.0 174.2 L793.6 173.4 L793.6 172.5 L794.2 171.4 L796.4 168.9 L746.3 117.1 L744.6 115.9 L741.5 114.4 L739.8 114.0 L736.4 114.0 L731.4 115.1 L714.5 116.7 L700.6 118.5 L686.8 120.6 L673.0 123.1 L652.4 127.6 L638.7 131.2 L625.0 135.1 L611.4 139.5 L597.9 144.4 L584.5 149.7 L571.2 155.5 L558.1 161.8 L545.1 168.5 L532.4 175.8 L519.8 183.6 L507.5 192.0 L495.5 200.8 L489.6 205.4 L478.1 215.0 L472.5 220.1 L461.5 230.5 L456.2 235.9 L445.9 247.0 L436.0 258.6 L431.3 264.7 L422.2 277.0 L417.9 283.3 L409.6 296.3 L405.7 302.9 L398.4 316.5 L391.6 330.4 L388.5 337.5 L382.7 351.8 L380.1 359.1 L375.3 373.9 L373.1 381.4 L369.4 396.5 L366.3 411.8 L364.0 427.1 L363.0 434.9 L361.7 450.4 L361.3 458.2Z" fill="none" stroke="#fff" stroke-width="7" opacity="0.5" filter="url(#blur2)"/>
<path d="M360.9 476.5 L424.0 425.4 L426.1 424.0 L428.0 423.0 L429.9 422.4 L431.9 422.1 L433.8 422.2 L435.9 422.6 L438.8 424.0 L440.8 425.4 L495.7 470.8 L495.7 470.4 L486.6 462.8 L486.1 461.7 L486.1 460.5 L486.4 459.6 L486.9 458.9 L488.2 458.3 L489.5 458.6 L490.7 459.5 L491.7 449.7 L492.4 444.3 L494.2 434.2 L495.4 428.9 L496.6 423.7 L499.5 413.9 L501.1 408.8 L504.7 399.1 L508.8 389.5 L513.3 380.2 L518.2 371.1 L526.2 358.2 L532.1 349.9 L538.3 341.7 L548.0 330.4 L555.0 323.0 L562.0 316.1 L573.0 306.3 L584.2 297.2 L593.6 290.3 L596.3 289.0 L598.6 288.4 L600.4 288.2 L606.2 288.2 L606.6 285.6 L607.5 283.1 L608.8 281.1 L611.2 278.9 L624.2 271.4 L632.4 267.1 L640.7 263.0 L653.4 257.4 L666.1 252.3 L679.0 247.8 L692.0 243.9 L705.1 240.5 L714.1 238.5 L722.9 236.9 L731.9 235.5 L734.8 235.1 L738.0 235.2 L740.7 234.9 L743.1 234.1 L744.2 233.5 L746.5 231.8 L747.8 230.5 L794.5 177.7 L795.6 176.2 L794.0 174.2 L793.6 173.4 L793.6 172.5 L794.2 171.4 L796.4 168.9 L746.3 117.1 L744.6 115.9 L741.5 114.4 L739.8 114.0 L736.4 114.0 L731.4 115.1 L714.5 116.7 L700.6 118.5 L686.8 120.6 L673.0 123.1 L652.4 127.6 L638.7 131.2 L625.0 135.1 L611.4 139.5 L597.9 144.4 L584.5 149.7 L571.2 155.5 L558.1 161.8 L545.1 168.5 L532.4 175.8 L519.8 183.6 L507.5 192.0 L495.5 200.8 L489.6 205.4 L478.1 215.0 L472.5 220.1 L461.5 230.5 L456.2 235.9 L445.9 247.0 L436.0 258.6 L431.3 264.7 L422.2 277.0 L417.9 283.3 L409.6 296.3 L405.7 302.9 L398.4 316.5 L391.6 330.4 L388.5 337.5 L382.7 351.8 L380.1 359.1 L375.3 373.9 L373.1 381.4 L369.4 396.5 L366.3 411.8 L364.0 427.1 L363.0 434.9 L361.7 450.4 L361.3 458.2Z" fill="none" stroke="#fff" stroke-width="4"/>
<path d="M776.8 113.9 L826.2 167.9 L827.6 169.7 L828.8 171.7 L829.5 173.7 L829.8 175.7 L829.6 178.4 L828.9 180.3 L827.9 182.4 L826.5 184.2 L780.2 238.4 L780.6 238.4 L788.4 229.4 L789.5 228.9 L790.7 229.0 L792.0 229.5 L792.7 230.6 L792.7 232.0 L791.6 233.5 L806.3 235.1 L815.0 236.4 L823.9 238.0 L832.5 239.9 L841.1 242.1 L849.7 244.5 L858.2 247.3 L870.9 251.9 L883.4 257.2 L892.8 261.6 L894.6 262.9 L896.0 264.3 L897.8 267.1 L898.4 269.0 L898.7 270.4 L898.8 284.0 L898.2 285.1 L897.5 285.6 L896.6 285.9 L895.8 285.7 L893.3 284.4 L893.3 288.3 L896.5 288.2 L897.8 288.6 L898.6 289.6 L898.8 291.7 L938.8 291.7 L942.2 292.5 L943.8 293.2 L945.7 294.5 L956.5 303.1 L963.7 309.4 L973.9 318.9 L980.8 325.8 L990.3 336.3 L996.6 343.8 L1005.5 355.3 L1011.1 363.4 L1016.5 371.8 L1021.6 380.4 L1026.3 389.2 L1030.6 398.3 L1034.6 407.6 L1038.2 417.1 L1041.3 426.7 L1044.8 439.2 L1046.3 442.2 L1048.2 444.8 L1050.6 447.2 L1052.1 448.4 L1109.1 489.1 L1110.1 489.5 L1110.6 489.5 L1112.8 488.0 L1114.1 487.7 L1115.3 488.1 L1118.3 490.3 L1171.9 440.6 L1174.0 437.5 L1174.8 435.8 L1175.5 432.3 L1175.3 428.5 L1172.2 414.6 L1170.4 407.3 L1166.2 392.7 L1161.4 378.4 L1158.9 371.4 L1153.3 357.4 L1150.3 350.6 L1144.0 337.1 L1140.7 330.4 L1133.6 317.3 L1126.1 304.6 L1122.2 298.3 L1114.1 286.1 L1105.5 274.2 L1101.0 268.4 L1091.9 257.1 L1082.3 246.1 L1077.4 240.8 L1067.4 230.5 L1057.0 220.5 L1051.6 215.7 L1040.8 206.4 L1029.6 197.5 L1023.9 193.3 L1012.4 185.1 L1000.6 177.3 L994.6 173.6 L982.5 166.5 L970.1 159.9 L963.9 156.8 L951.3 150.9 L938.5 145.4 L919.1 138.1 L906.0 133.7 L886.2 128.1 L866.3 123.4 L846.2 119.6 L832.7 117.7 L812.5 115.4 L792.3 114.1 L778.9 113.7Z" fill="none" stroke="#fff" stroke-width="7" opacity="0.5" filter="url(#blur2)"/>
<path d="M776.8 113.9 L826.2 167.9 L827.6 169.7 L828.8 171.7 L829.5 173.7 L829.8 175.7 L829.6 178.4 L828.9 180.3 L827.9 182.4 L826.5 184.2 L780.2 238.4 L780.6 238.4 L788.4 229.4 L789.5 228.9 L790.7 229.0 L792.0 229.5 L792.7 230.6 L792.7 232.0 L791.6 233.5 L806.3 235.1 L815.0 236.4 L823.9 238.0 L832.5 239.9 L841.1 242.1 L849.7 244.5 L858.2 247.3 L870.9 251.9 L883.4 257.2 L892.8 261.6 L894.6 262.9 L896.0 264.3 L897.8 267.1 L898.4 269.0 L898.7 270.4 L898.8 284.0 L898.2 285.1 L897.5 285.6 L896.6 285.9 L895.8 285.7 L893.3 284.4 L893.3 288.3 L896.5 288.2 L897.8 288.6 L898.6 289.6 L898.8 291.7 L938.8 291.7 L942.2 292.5 L943.8 293.2 L945.7 294.5 L956.5 303.1 L963.7 309.4 L973.9 318.9 L980.8 325.8 L990.3 336.3 L996.6 343.8 L1005.5 355.3 L1011.1 363.4 L1016.5 371.8 L1021.6 380.4 L1026.3 389.2 L1030.6 398.3 L1034.6 407.6 L1038.2 417.1 L1041.3 426.7 L1044.8 439.2 L1046.3 442.2 L1048.2 444.8 L1050.6 447.2 L1052.1 448.4 L1109.1 489.1 L1110.1 489.5 L1110.6 489.5 L1112.8 488.0 L1114.1 487.7 L1115.3 488.1 L1118.3 490.3 L1171.9 440.6 L1174.0 437.5 L1174.8 435.8 L1175.5 432.3 L1175.3 428.5 L1172.2 414.6 L1170.4 407.3 L1166.2 392.7 L1161.4 378.4 L1158.9 371.4 L1153.3 357.4 L1150.3 350.6 L1144.0 337.1 L1140.7 330.4 L1133.6 317.3 L1126.1 304.6 L1122.2 298.3 L1114.1 286.1 L1105.5 274.2 L1101.0 268.4 L1091.9 257.1 L1082.3 246.1 L1077.4 240.8 L1067.4 230.5 L1057.0 220.5 L1051.6 215.7 L1040.8 206.4 L1029.6 197.5 L1023.9 193.3 L1012.4 185.1 L1000.6 177.3 L994.6 173.6 L982.5 166.5 L970.1 159.9 L963.9 156.8 L951.3 150.9 L938.5 145.4 L919.1 138.1 L906.0 133.7 L886.2 128.1 L866.3 123.4 L846.2 119.6 L832.7 117.7 L812.5 115.4 L792.3 114.1 L778.9 113.7Z" fill="none" stroke="#fff" stroke-width="4"/>
<path d="M738.8 763.6 L739.3 765.0 L741.2 767.4 L799.3 827.0 L800.9 828.3 L804.3 830.1 L808.0 831.1 L812.1 831.3 L831.3 829.7 L845.2 828.1 L866.2 825.2 L880.1 822.8 L901.1 818.4 L915.1 815.0 L929.1 811.2 L943.1 806.9 L957.0 802.2 L970.8 796.9 L984.5 791.1 L998.1 784.8 L1011.5 777.9 L1024.7 770.4 L1037.7 762.3 L1044.1 758.1 L1056.6 749.1 L1062.7 744.4 L1074.6 734.5 L1080.4 729.3 L1091.7 718.6 L1097.2 713.0 L1107.7 701.4 L1117.7 689.2 L1122.5 682.9 L1131.5 670.0 L1135.8 663.4 L1143.9 649.8 L1147.7 642.8 L1154.7 628.6 L1161.0 614.0 L1163.9 606.6 L1169.0 591.5 L1171.9 581.3 L1173.8 573.5 L1175.6 565.8 L1178.4 550.1 L1179.6 542.2 L1181.3 526.4 L1181.8 518.5 L1182.4 502.7 L1182.2 486.8 L1181.4 471.4 L1179.2 466.7 L1118.3 519.0 L1116.5 520.4 L1114.6 521.4 L1112.7 522.1 L1110.8 522.5 L1108.8 522.5 L1106.9 522.2 L1105.0 521.6 L1101.5 519.6 L1046.1 477.9 L1046.1 486.4 L1045.5 496.8 L1044.3 507.1 L1042.6 517.4 L1040.3 527.6 L1036.0 542.5 L1032.6 552.3 L1028.7 562.0 L1024.4 571.3 L1019.5 580.4 L1014.2 589.2 L1008.4 597.7 L1002.4 605.8 L995.9 613.7 L989.1 621.2 L978.4 631.7 L971.0 638.3 L963.3 644.5 L955.5 650.4 L943.4 658.6 L935.2 663.6 L922.8 670.6 L910.2 676.9 L897.5 682.5 L889.0 686.0 L876.2 690.6 L863.4 694.8 L850.5 698.4 L837.5 701.5 L820.3 704.9 L804.7 707.2 L802.1 707.2 L798.1 707.6 L794.5 708.7 L792.7 709.6 L789.4 712.0 L787.7 713.5Z" fill="none" stroke="#fff" stroke-width="7" opacity="0.5" filter="url(#blur2)"/>
<path d="M738.8 763.6 L739.3 765.0 L741.2 767.4 L799.3 827.0 L800.9 828.3 L804.3 830.1 L808.0 831.1 L812.1 831.3 L831.3 829.7 L845.2 828.1 L866.2 825.2 L880.1 822.8 L901.1 818.4 L915.1 815.0 L929.1 811.2 L943.1 806.9 L957.0 802.2 L970.8 796.9 L984.5 791.1 L998.1 784.8 L1011.5 777.9 L1024.7 770.4 L1037.7 762.3 L1044.1 758.1 L1056.6 749.1 L1062.7 744.4 L1074.6 734.5 L1080.4 729.3 L1091.7 718.6 L1097.2 713.0 L1107.7 701.4 L1117.7 689.2 L1122.5 682.9 L1131.5 670.0 L1135.8 663.4 L1143.9 649.8 L1147.7 642.8 L1154.7 628.6 L1161.0 614.0 L1163.9 606.6 L1169.0 591.5 L1171.9 581.3 L1173.8 573.5 L1175.6 565.8 L1178.4 550.1 L1179.6 542.2 L1181.3 526.4 L1181.8 518.5 L1182.4 502.7 L1182.2 486.8 L1181.4 471.4 L1179.2 466.7 L1118.3 519.0 L1116.5 520.4 L1114.6 521.4 L1112.7 522.1 L1110.8 522.5 L1108.8 522.5 L1106.9 522.2 L1105.0 521.6 L1101.5 519.6 L1046.1 477.9 L1046.1 486.4 L1045.5 496.8 L1044.3 507.1 L1042.6 517.4 L1040.3 527.6 L1036.0 542.5 L1032.6 552.3 L1028.7 562.0 L1024.4 571.3 L1019.5 580.4 L1014.2 589.2 L1008.4 597.7 L1002.4 605.8 L995.9 613.7 L989.1 621.2 L978.4 631.7 L971.0 638.3 L963.3 644.5 L955.5 650.4 L943.4 658.6 L935.2 663.6 L922.8 670.6 L910.2 676.9 L897.5 682.5 L889.0 686.0 L876.2 690.6 L863.4 694.8 L850.5 698.4 L837.5 701.5 L820.3 704.9 L804.7 707.2 L802.1 707.2 L798.1 707.6 L794.5 708.7 L792.7 709.6 L789.4 712.0 L787.7 713.5Z" fill="none" stroke="#fff" stroke-width="4"/>
<path d="M581.9 646.3 L571.1 636.9 L564.1 630.3 L557.3 623.3 L550.7 616.1 L541.5 604.8 L535.6 596.8 L530.1 588.6 L524.8 580.1 L519.9 571.3 L515.5 562.3 L511.4 553.1 L507.8 543.7 L504.5 534.0 L501.8 524.2 L499.5 514.2 L498.8 510.2 L498.3 505.5 L497.9 503.6 L496.3 500.0 L495.2 498.3 L492.6 495.3 L490.8 493.9 L437.0 452.4 L434.5 451.4 L432.1 451.2 L429.7 451.9 L427.2 453.6 L367.9 503.8 L366.4 505.2 L365.1 506.8 L364.2 508.3 L363.2 511.3 L363.0 513.0 L363.1 514.8 L364.2 519.2 L366.1 531.8 L369.1 547.0 L370.8 554.6 L374.7 569.5 L379.3 584.3 L384.5 598.8 L390.2 613.1 L396.6 627.0 L400.0 633.9 L407.2 647.4 L415.0 660.5 L423.3 673.3 L432.1 685.6 L436.7 691.7 L446.3 703.4 L451.2 709.1 L461.4 720.1 L472.0 730.7 L477.5 735.8 L488.7 745.6 L500.3 754.9 L506.2 759.4 L518.3 767.9 L530.6 775.9 L536.9 779.7 L549.6 786.9 L562.5 793.6 L569.1 796.7 L582.2 802.6 L595.6 808.0 L602.3 810.4 L615.8 815.1 L629.4 819.2 L649.9 824.5 L670.5 828.9 L691.1 832.3 L704.9 834.0 L725.6 836.0 L746.2 837.2 L766.7 837.7 L707.4 773.9 L705.8 771.9 L704.7 770.1 L704.1 768.2 L703.8 766.3 L704.0 764.1 L704.5 762.3 L706.0 759.7 L707.6 757.9 L756.8 709.8 L743.3 709.2 L734.6 708.5 L726.1 707.6 L713.0 705.6 L700.1 703.1 L687.2 700.0 L674.4 696.3 L661.6 691.9 L647.5 686.2 L645.8 685.0 L644.7 683.6 L644.2 682.4 L644.0 681.1 L644.1 679.1 L644.5 677.8 L645.2 676.7 L648.4 673.8 L650.3 671.6 L651.5 669.2 L652.4 666.4 L652.7 663.4 L652.4 659.7 L651.5 656.8 L650.2 654.3 L648.3 652.1 L646.2 650.3 L643.5 648.9 L640.8 648.1 L637.8 647.8 L586.0 647.8 L584.8 647.7 L583.5 647.3Z" fill="none" stroke="#fff" stroke-width="7" opacity="0.5" filter="url(#blur2)"/>
<path d="M581.9 646.3 L571.1 636.9 L564.1 630.3 L557.3 623.3 L550.7 616.1 L541.5 604.8 L535.6 596.8 L530.1 588.6 L524.8 580.1 L519.9 571.3 L515.5 562.3 L511.4 553.1 L507.8 543.7 L504.5 534.0 L501.8 524.2 L499.5 514.2 L498.8 510.2 L498.3 505.5 L497.9 503.6 L496.3 500.0 L495.2 498.3 L492.6 495.3 L490.8 493.9 L437.0 452.4 L434.5 451.4 L432.1 451.2 L429.7 451.9 L427.2 453.6 L367.9 503.8 L366.4 505.2 L365.1 506.8 L364.2 508.3 L363.2 511.3 L363.0 513.0 L363.1 514.8 L364.2 519.2 L366.1 531.8 L369.1 547.0 L370.8 554.6 L374.7 569.5 L379.3 584.3 L384.5 598.8 L390.2 613.1 L396.6 627.0 L400.0 633.9 L407.2 647.4 L415.0 660.5 L423.3 673.3 L432.1 685.6 L436.7 691.7 L446.3 703.4 L451.2 709.1 L461.4 720.1 L472.0 730.7 L477.5 735.8 L488.7 745.6 L500.3 754.9 L506.2 759.4 L518.3 767.9 L530.6 775.9 L536.9 779.7 L549.6 786.9 L562.5 793.6 L569.1 796.7 L582.2 802.6 L595.6 808.0 L602.3 810.4 L615.8 815.1 L629.4 819.2 L649.9 824.5 L670.5 828.9 L691.1 832.3 L704.9 834.0 L725.6 836.0 L746.2 837.2 L766.7 837.7 L707.4 773.9 L705.8 771.9 L704.7 770.1 L704.1 768.2 L703.8 766.3 L704.0 764.1 L704.5 762.3 L706.0 759.7 L707.6 757.9 L756.8 709.8 L743.3 709.2 L734.6 708.5 L726.1 707.6 L713.0 705.6 L700.1 703.1 L687.2 700.0 L674.4 696.3 L661.6 691.9 L647.5 686.2 L645.8 685.0 L644.7 683.6 L644.2 682.4 L644.0 681.1 L644.1 679.1 L644.5 677.8 L645.2 676.7 L648.4 673.8 L650.3 671.6 L651.5 669.2 L652.4 666.4 L652.7 663.4 L652.4 659.7 L651.5 656.8 L650.2 654.3 L648.3 652.1 L646.2 650.3 L643.5 648.9 L640.8 648.1 L637.8 647.8 L586.0 647.8 L584.8 647.7 L583.5 647.3Z" fill="none" stroke="#fff" stroke-width="4"/>
</g>
<rect x="536.5" y="380" width="463" height="178" rx="32" fill="#d455b5" opacity="0.5" filter="url(#blur12)"/>
<rect x="544.5" y="391" width="447" height="162" rx="24" fill="#b83a70"/>
<rect x="544.5" y="388" width="447" height="162" rx="24" fill="url(#gBoxRim)"/>
<rect x="550.0" y="393.5" width="436" height="151" rx="18.5" fill="url(#gBox)"/>
<ellipse cx="745" cy="390" rx="130" ry="22" fill="url(#fg)" opacity="0.8"/>
<ellipse cx="745" cy="390" rx="75" ry="3.2" fill="url(#fm)"/>
<ellipse cx="795" cy="548" rx="130" ry="22" fill="url(#fg)" opacity="0.8"/>
<ellipse cx="795" cy="548" rx="75" ry="3.2" fill="url(#fm)"/>
<g font-family="'Liberation Sans', sans-serif">
<text x="576.5" y="252" font-size="33" font-weight="normal" fill="#a02a60" opacity="0.5" text-anchor="middle" textLength="129" lengthAdjust="spacingAndGlyphs" filter="url(#blur2)">Align on</text>
<text x="576.5" y="250" font-size="33" font-weight="normal" fill="#fff6fb" stroke="#fff6fb" stroke-width="1.2" stroke-linejoin="round" text-anchor="middle" textLength="129" lengthAdjust="spacingAndGlyphs">Align on</text>
<text x="567" y="292.5" font-size="33" font-weight="normal" fill="#a02a60" opacity="0.5" text-anchor="middle" textLength="86.5" lengthAdjust="spacingAndGlyphs" filter="url(#blur2)">Goals</text>
<text x="567" y="290.5" font-size="33" font-weight="normal" fill="#fff6fb" stroke="#fff6fb" stroke-width="1.2" stroke-linejoin="round" text-anchor="middle" textLength="86.5" lengthAdjust="spacingAndGlyphs">Goals</text>
<text x="991.5" y="251.5" font-size="33" font-weight="normal" fill="#20245f" stroke="#20245f" stroke-width="1.2" stroke-linejoin="round" text-anchor="middle" textLength="78" lengthAdjust="spacingAndGlyphs">Build</text>
<text x="991.4" y="291.3" font-size="33" font-weight="normal" fill="#20245f" stroke="#20245f" stroke-width="1.2" stroke-linejoin="round" text-anchor="middle" textLength="187" lengthAdjust="spacingAndGlyphs">Relationships</text>
<ellipse cx="925" cy="655" rx="45" ry="18" fill="#8a3c9a" opacity="0.45" filter="url(#blur6)"/>
<text x="997.6" y="667" font-size="33" font-weight="normal" fill="#a02a60" opacity="0.5" text-anchor="middle" textLength="215" lengthAdjust="spacingAndGlyphs" filter="url(#blur2)">Drive Strategic</text>
<text x="997.6" y="665" font-size="33" font-weight="normal" fill="#fff6fb" stroke="#fff6fb" stroke-width="1.2" stroke-linejoin="round" text-anchor="middle" textLength="215" lengthAdjust="spacingAndGlyphs">Drive Strategic</text>
<text x="996" y="706" font-size="33" font-weight="normal" fill="#a02a60" opacity="0.5" text-anchor="middle" textLength="127" lengthAdjust="spacingAndGlyphs" filter="url(#blur2)">Dialogue</text>
<text x="996" y="704" font-size="33" font-weight="normal" fill="#fff6fb" stroke="#fff6fb" stroke-width="1.2" stroke-linejoin="round" text-anchor="middle" textLength="127" lengthAdjust="spacingAndGlyphs">Dialogue</text>
<text x="548.6" y="672.3" font-size="33" font-weight="normal" fill="#20245f" stroke="#20245f" stroke-width="1.2" stroke-linejoin="round" text-anchor="middle" textLength="194" lengthAdjust="spacingAndGlyphs">Demonstrate</text>
<text x="553.2" y="712.2" font-size="33" font-weight="normal" fill="#20245f" stroke="#20245f" stroke-width="1.2" stroke-linejoin="round" text-anchor="middle" textLength="80" lengthAdjust="spacingAndGlyphs">Value</text>
<text x="762" y="458.7" font-size="50" font-weight="bold" fill="#8a1f50" opacity="0.5" text-anchor="middle" textLength="337" lengthAdjust="spacingAndGlyphs" filter="url(#blur2)">Executive-Level</text>
<text x="762" y="456.7" font-size="50" font-weight="bold" fill="#fff6fb" text-anchor="middle" textLength="337" lengthAdjust="spacingAndGlyphs">Executive-Level</text>
<text x="760.6" y="514.3" font-size="50" font-weight="bold" fill="#8a1f50" opacity="0.5" text-anchor="middle" textLength="269" lengthAdjust="spacingAndGlyphs" filter="url(#blur2)">Engagement</text>
<text x="760.6" y="512.3" font-size="50" font-weight="bold" fill="#fff6fb" text-anchor="middle" textLength="269" lengthAdjust="spacingAndGlyphs">Engagement</text>
</g>
</svg>
</body></html>
